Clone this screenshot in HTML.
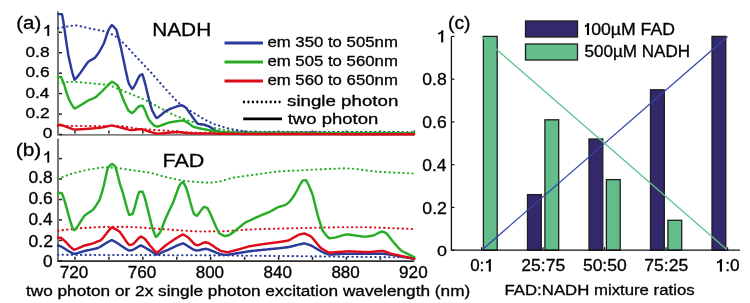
<!DOCTYPE html><html><head><meta charset="utf-8"><style>html,body{margin:0;padding:0;background:#fff;width:750px;height:303px;overflow:hidden}svg{display:block;filter:contrast(1)}text{font-family:"Liberation Sans",sans-serif;fill:#000;stroke:#000;stroke-width:0.3px}</style></head><body>
<svg width="750" height="303" viewBox="0 0 750 303">
<path d="M58,11.4 V134.5" fill="none" stroke="#777" stroke-width="2"/>
<path d="M57,134.9 H414.3" fill="none" stroke="#808080" stroke-width="1.8"/>
<path d="M59,134.5 h3" stroke="#222" stroke-width="1.5"/>
<path d="M59,114.1 h3" stroke="#222" stroke-width="1.5"/>
<path d="M59,93.6 h3" stroke="#222" stroke-width="1.5"/>
<path d="M59,73.2 h3" stroke="#222" stroke-width="1.5"/>
<path d="M59,52.7 h3" stroke="#222" stroke-width="1.5"/>
<path d="M59,32.3 h3" stroke="#222" stroke-width="1.5"/>
<text transform="translate(42.66,137.80) scale(1.147,1)" font-size="15.07">0</text>
<text transform="translate(25.45,118.20) scale(1.159,1)" font-size="15.07">0.2</text>
<text transform="translate(25.46,98.10) scale(1.141,1)" font-size="15.07">0.4</text>
<text transform="translate(25.46,76.70) scale(1.150,1)" font-size="15.07">0.6</text>
<text transform="translate(25.46,56.50) scale(1.150,1)" font-size="15.07">0.8</text>
<path d="M48.25,24.90 V36.10" stroke="#000" stroke-width="1.9"/><path d="M49.00,25.10 Q47.25,27.50 44.35,28.40" fill="none" stroke="#000" stroke-width="1.61"/>
<path d="M75.0,133.5 v-3" stroke="#222" stroke-width="1.5"/>
<path d="M108.9,133.5 v-3" stroke="#222" stroke-width="1.5"/>
<path d="M142.8,133.5 v-3" stroke="#222" stroke-width="1.5"/>
<path d="M176.8,133.5 v-3" stroke="#222" stroke-width="1.5"/>
<path d="M210.7,133.5 v-3" stroke="#222" stroke-width="1.5"/>
<path d="M244.6,133.5 v-3" stroke="#222" stroke-width="1.5"/>
<path d="M278.6,133.5 v-3" stroke="#222" stroke-width="1.5"/>
<path d="M312.5,133.5 v-3" stroke="#222" stroke-width="1.5"/>
<path d="M346.4,133.5 v-3" stroke="#222" stroke-width="1.5"/>
<path d="M380.4,133.5 v-3" stroke="#222" stroke-width="1.5"/>
<path d="M414.3,133.5 v-3" stroke="#222" stroke-width="1.5"/>
<path d="M58,138.6 V260.8" fill="none" stroke="#777" stroke-width="2"/>
<path d="M57,261.2 H414.3" fill="none" stroke="#2e2e2e" stroke-width="1.8"/>
<path d="M59,260.8 h3" stroke="#222" stroke-width="1.5"/>
<path d="M59,240.4 h3" stroke="#222" stroke-width="1.5"/>
<path d="M59,219.9 h3" stroke="#222" stroke-width="1.5"/>
<path d="M59,199.5 h3" stroke="#222" stroke-width="1.5"/>
<path d="M59,179.0 h3" stroke="#222" stroke-width="1.5"/>
<path d="M59,158.6 h3" stroke="#222" stroke-width="1.5"/>
<text transform="translate(43.06,267.09) scale(1.106,1)" font-size="15.63">0</text>
<text transform="translate(28.45,246.99) scale(1.127,1)" font-size="15.63">0.2</text>
<text transform="translate(28.46,225.39) scale(1.110,1)" font-size="15.63">0.4</text>
<text transform="translate(28.45,204.39) scale(1.118,1)" font-size="15.63">0.6</text>
<text transform="translate(28.45,183.49) scale(1.118,1)" font-size="15.63">0.8</text>
<path d="M48.25,151.40 V162.60" stroke="#000" stroke-width="1.9"/><path d="M49.00,151.60 Q47.25,154.00 44.35,154.90" fill="none" stroke="#000" stroke-width="1.61"/>
<path d="M75.0,259.8 v-3" stroke="#222" stroke-width="1.5"/>
<path d="M108.9,259.8 v-3" stroke="#222" stroke-width="1.5"/>
<path d="M142.8,259.8 v-3" stroke="#222" stroke-width="1.5"/>
<path d="M176.8,259.8 v-3" stroke="#222" stroke-width="1.5"/>
<path d="M210.7,259.8 v-3" stroke="#222" stroke-width="1.5"/>
<path d="M244.6,259.8 v-3" stroke="#222" stroke-width="1.5"/>
<path d="M278.6,259.8 v-3" stroke="#222" stroke-width="1.5"/>
<path d="M312.5,259.8 v-3" stroke="#222" stroke-width="1.5"/>
<path d="M346.4,259.8 v-3" stroke="#222" stroke-width="1.5"/>
<path d="M380.4,259.8 v-3" stroke="#222" stroke-width="1.5"/>
<path d="M414.3,259.8 v-3" stroke="#222" stroke-width="1.5"/>
<text transform="translate(16.22,28.66) scale(1.165,1)" font-size="17.55">(a)</text>
<text transform="translate(15.70,156.19) scale(1.136,1)" font-size="18.40">(b)</text>
<text transform="translate(152.18,35.65) scale(1.097,1)" font-size="18.99">NADH</text>
<text transform="translate(162.53,166.95) scale(1.167,1)" font-size="18.41">FAD</text>
<text transform="translate(59.76,278.29) scale(1.097,1)" font-size="15.63">720</text>
<text transform="translate(127.63,278.29) scale(1.097,1)" font-size="15.63">760</text>
<text transform="translate(195.67,278.29) scale(1.090,1)" font-size="15.63">800</text>
<text transform="translate(263.53,278.29) scale(1.090,1)" font-size="15.63">840</text>
<text transform="translate(331.40,278.29) scale(1.090,1)" font-size="15.63">880</text>
<text transform="translate(399.09,278.29) scale(1.097,1)" font-size="15.63">920</text>
<text transform="translate(25.91,295.64) scale(1.166,1)" font-size="14.79">two photon or 2x single photon excitation wavelength (nm)</text>
<path d="M58.0,126.00 L59.0,126.00 L60.0,126.00 L61.0,126.00 L62.0,126.00 L63.0,126.00 L64.0,126.00 L65.0,126.00 L66.0,126.00 L67.0,126.00 L68.0,126.00 L69.0,126.00 L70.0,126.00 L71.0,126.00 L72.0,126.00 L73.0,126.00 L74.0,126.00 L75.0,126.00 L76.0,126.00 L77.0,126.00 L78.0,126.00 L79.0,126.00 L80.0,126.00 L81.0,126.00 L82.0,126.00 L83.0,126.00 L84.0,126.00 L85.0,126.00 L86.0,126.00 L87.0,126.00 L88.0,126.00 L89.0,126.00 L90.0,126.00 L91.0,126.00 L92.0,126.00 L93.0,126.00 L94.0,126.00 L95.0,126.00 L96.0,126.00 L97.0,126.00 L98.0,126.00 L99.0,126.00 L100.0,126.00 L101.0,126.00 L102.0,126.00 L103.0,126.00 L104.0,126.00 L105.0,126.00 L106.0,126.00 L107.0,126.00 L108.0,126.00 L109.0,126.00 L110.0,126.00 L111.0,126.00 L112.0,126.00 L113.0,126.00 L114.0,126.00 L115.0,126.00 L116.0,126.00 L117.0,126.00 L118.0,126.00 L119.0,126.00 L120.0,126.00 L121.0,126.00 L122.0,126.12 L123.1,126.26 L124.1,126.42 L125.1,126.58 L126.2,126.76 L127.2,126.94 L128.2,127.13 L129.2,127.33 L130.3,127.53 L131.3,127.72 L132.3,127.92 L133.4,128.11 L134.4,128.30 L135.4,128.48 L136.5,128.64 L137.5,128.80 L138.5,128.88 L139.5,128.95 L140.5,129.02 L141.5,129.10 L142.5,129.17 L143.5,129.24 L144.5,129.30 L145.6,129.37 L146.6,129.44 L147.6,129.50 L148.6,129.57 L149.6,129.63 L150.6,129.69 L151.6,129.75 L152.6,129.82 L153.6,129.88 L154.6,129.94 L155.6,130.00 L156.6,130.06 L157.6,130.13 L158.6,130.19 L159.7,130.25 L160.7,130.31 L161.7,130.37 L162.7,130.44 L163.7,130.50 L164.7,130.57 L165.7,130.63 L166.7,130.70 L167.7,130.78 L168.7,130.85 L169.8,130.93 L170.8,131.01 L171.8,131.10 L172.8,131.18 L173.9,131.26 L174.9,131.35 L175.9,131.43 L176.9,131.51 L178.0,131.60 L179.0,131.68 L180.0,131.77 L181.0,131.85 L182.0,131.93 L183.1,132.01 L184.1,132.09 L185.1,132.17 L186.1,132.24 L187.2,132.32 L188.2,132.39 L189.2,132.46 L190.2,132.52 L191.3,132.58 L192.3,132.64 L193.3,132.70 L194.3,132.71 L195.3,132.72 L196.3,132.73 L197.4,132.73 L198.4,132.74 L199.4,132.75 L200.4,132.76 L201.4,132.77 L202.4,132.77 L203.5,132.78 L204.5,132.79 L205.5,132.79 L206.5,132.80 L207.5,132.81 L208.5,132.82 L209.5,132.82 L210.6,132.83 L211.6,132.84 L212.6,132.84 L213.6,132.85 L214.6,132.86 L215.6,132.86 L216.7,132.87 L217.7,132.87 L218.7,132.88 L219.7,132.89 L220.7,132.89 L221.7,132.90 L222.7,132.90 L223.8,132.91 L224.8,132.91 L225.8,132.92 L226.8,132.93 L227.8,132.93 L228.8,132.94 L229.8,132.94 L230.9,132.95 L231.9,132.95 L232.9,132.96 L233.9,132.97 L234.9,132.97 L235.9,132.98 L237.0,132.98 L238.0,132.99 L239.0,132.99 L240.0,133.00 L241.0,133.00 L242.0,133.01 L243.0,133.01 L244.0,133.01 L245.0,133.02 L246.0,133.02 L247.0,133.02 L248.0,133.03 L249.0,133.03 L250.0,133.03 L251.0,133.04 L252.0,133.04 L253.0,133.04 L254.0,133.05 L255.0,133.05 L256.0,133.05 L257.0,133.06 L258.0,133.06 L259.0,133.06 L260.0,133.07 L261.0,133.07 L262.0,133.07 L263.0,133.07 L264.0,133.08 L265.0,133.08 L266.0,133.08 L267.0,133.09 L268.0,133.09 L269.0,133.09 L270.0,133.10 L271.0,133.10 L272.0,133.10 L273.0,133.11 L274.0,133.11 L275.0,133.11 L276.0,133.11 L277.0,133.12 L278.0,133.12 L279.0,133.12 L280.0,133.13 L281.0,133.13 L282.0,133.13 L283.0,133.14 L284.0,133.14 L285.0,133.14 L286.0,133.14 L287.0,133.15 L288.0,133.15 L289.0,133.15 L290.0,133.16 L291.0,133.16 L292.0,133.16 L293.0,133.16 L294.0,133.17 L295.0,133.17 L296.0,133.17 L297.0,133.18 L298.0,133.18 L299.0,133.18 L300.0,133.19 L301.0,133.19 L302.0,133.19 L303.0,133.19 L304.0,133.20 L305.0,133.20 L306.0,133.20 L307.0,133.21 L308.0,133.21 L309.0,133.21 L310.0,133.21 L311.0,133.22 L312.0,133.22 L313.0,133.22 L314.0,133.22 L315.0,133.23 L316.0,133.23 L317.0,133.23 L318.0,133.24 L319.0,133.24 L320.0,133.24 L321.0,133.24 L322.0,133.25 L323.0,133.25 L324.0,133.25 L325.0,133.26 L326.0,133.26 L327.0,133.26 L328.0,133.26 L329.0,133.27 L330.0,133.27 L331.0,133.27 L332.0,133.27 L333.0,133.28 L334.0,133.28 L335.0,133.28 L336.0,133.29 L337.0,133.29 L338.0,133.29 L339.0,133.29 L340.0,133.30 L341.0,133.30 L342.0,133.30 L343.0,133.30 L344.0,133.31 L345.0,133.31 L346.0,133.31 L347.0,133.32 L348.0,133.32 L349.0,133.32 L350.0,133.32 L351.0,133.33 L352.0,133.33 L353.0,133.33 L354.0,133.33 L355.0,133.34 L356.0,133.34 L357.0,133.34 L358.0,133.35 L359.0,133.35 L360.0,133.35 L361.0,133.35 L362.0,133.36 L363.0,133.36 L364.0,133.36 L365.0,133.36 L366.0,133.37 L367.0,133.37 L368.0,133.37 L369.0,133.37 L370.0,133.38 L371.0,133.38 L372.0,133.38 L373.0,133.39 L374.0,133.39 L375.0,133.39 L376.0,133.39 L377.0,133.40 L378.0,133.40 L379.0,133.40 L380.0,133.40 L381.0,133.41 L382.0,133.41 L383.0,133.41 L384.0,133.42 L385.0,133.42 L386.0,133.42 L387.0,133.42 L388.0,133.43 L389.0,133.43 L390.0,133.43 L391.0,133.44 L392.0,133.44 L393.0,133.44 L394.0,133.44 L395.0,133.45 L396.0,133.45 L397.0,133.45 L398.0,133.45 L399.0,133.46 L400.0,133.46 L401.0,133.46 L402.0,133.47 L403.0,133.47 L404.0,133.47 L405.0,133.47 L406.0,133.48 L407.0,133.48 L408.0,133.48 L409.0,133.49 L410.0,133.49 L411.0,133.49 L412.0,133.49 L413.0,133.50 L414.0,133.50" fill="none" stroke="#dd0a18" stroke-width="2.1" stroke-dasharray="0.3 4.3" stroke-linecap="round"/>
<path d="M58.0,83.00 L59.0,82.90 L60.1,82.79 L61.1,82.68 L62.2,82.57 L63.2,82.46 L64.2,82.35 L65.3,82.24 L66.3,82.13 L67.3,82.03 L68.4,81.94 L69.4,81.85 L70.5,81.77 L71.5,81.70 L72.5,81.76 L73.6,81.82 L74.6,81.89 L75.6,81.96 L76.7,82.04 L77.7,82.12 L78.7,82.20 L79.8,82.28 L80.8,82.37 L81.8,82.46 L82.9,82.55 L83.9,82.65 L84.9,82.74 L86.0,82.84 L87.0,82.94 L88.0,83.03 L89.1,83.13 L90.1,83.23 L91.1,83.33 L92.2,83.42 L93.2,83.52 L94.2,83.61 L95.3,83.71 L96.3,83.80 L97.3,83.90 L98.4,84.01 L99.4,84.11 L100.5,84.21 L101.5,84.32 L102.6,84.42 L103.6,84.53 L104.7,84.64 L105.7,84.75 L106.8,84.87 L107.8,85.00 L108.8,85.32 L109.9,85.66 L110.9,86.02 L111.9,86.39 L113.0,86.77 L114.0,87.17 L115.0,87.57 L116.0,87.98 L117.1,88.39 L118.1,88.81 L119.1,89.23 L120.2,89.65 L121.2,90.07 L122.2,90.49 L123.3,90.90 L124.3,91.30 L125.3,91.73 L126.4,92.15 L127.4,92.58 L128.5,93.00 L129.5,93.43 L130.6,93.85 L131.6,94.28 L132.6,94.71 L133.7,95.13 L134.7,95.56 L135.8,95.99 L136.8,96.43 L137.8,96.86 L138.9,97.29 L139.9,97.73 L141.0,98.17 L142.0,98.61 L143.1,99.05 L144.1,99.50 L145.3,100.07 L146.5,100.65 L147.6,101.23 L148.8,101.81 L150.0,102.40 L151.0,102.94 L152.0,103.48 L153.1,104.03 L154.1,104.58 L155.1,105.14 L156.1,105.69 L157.2,106.25 L158.2,106.81 L159.2,107.36 L160.2,107.92 L161.3,108.48 L162.3,109.03 L163.3,109.59 L164.3,110.14 L165.4,110.69 L166.4,111.24 L167.4,111.78 L168.4,112.32 L169.5,112.85 L170.5,113.38 L171.5,113.90 L172.5,114.33 L173.6,114.76 L174.6,115.19 L175.6,115.61 L176.7,116.03 L177.7,116.45 L178.7,116.87 L179.8,117.28 L180.8,117.69 L181.8,118.10 L182.8,118.51 L183.9,118.91 L184.9,119.31 L185.9,119.71 L187.0,120.11 L188.0,120.50 L189.0,120.83 L190.1,121.15 L191.1,121.47 L192.1,121.79 L193.2,122.11 L194.2,122.43 L195.2,122.75 L196.2,123.06 L197.3,123.37 L198.3,123.68 L199.3,123.99 L200.4,124.29 L201.4,124.60 L202.4,124.90 L203.5,125.20 L204.5,125.50 L205.5,125.75 L206.6,126.01 L207.6,126.27 L208.7,126.53 L209.7,126.79 L210.8,127.05 L211.8,127.31 L212.8,127.57 L213.9,127.82 L214.9,128.07 L216.0,128.32 L217.0,128.56 L218.0,128.80 L219.1,129.04 L220.1,129.26 L221.2,129.48 L222.2,129.70 L223.3,129.90 L224.3,130.10 L225.3,130.17 L226.4,130.25 L227.4,130.32 L228.4,130.39 L229.4,130.46 L230.5,130.52 L231.5,130.59 L232.5,130.66 L233.6,130.72 L234.6,130.79 L235.6,130.85 L236.6,130.91 L237.7,130.97 L238.7,131.03 L239.7,131.09 L240.7,131.15 L241.8,131.20 L242.8,131.26 L243.8,131.31 L244.9,131.36 L245.9,131.41 L246.9,131.46 L247.9,131.51 L249.0,131.55 L250.0,131.60 L251.0,131.61 L252.0,131.62 L253.0,131.63 L254.0,131.64 L255.0,131.65 L256.0,131.66 L257.0,131.67 L258.0,131.68 L259.0,131.69 L260.0,131.70 L261.0,131.71 L262.0,131.72 L263.0,131.73 L264.0,131.74 L265.0,131.74 L266.0,131.75 L267.0,131.76 L268.0,131.77 L269.0,131.78 L270.0,131.79 L271.0,131.79 L272.0,131.80 L273.0,131.81 L274.0,131.82 L275.0,131.83 L276.0,131.83 L277.0,131.84 L278.0,131.85 L279.0,131.86 L280.0,131.86 L281.0,131.87 L282.0,131.88 L283.0,131.89 L284.0,131.89 L285.0,131.90 L286.0,131.91 L287.0,131.91 L288.0,131.92 L289.0,131.93 L290.0,131.93 L291.0,131.94 L292.0,131.95 L293.0,131.95 L294.0,131.96 L295.0,131.97 L296.0,131.97 L297.0,131.98 L298.0,131.99 L299.0,131.99 L300.0,132.00 L301.0,132.00 L302.0,132.00 L303.0,132.01 L304.0,132.01 L305.0,132.01 L306.0,132.01 L307.0,132.02 L308.0,132.02 L309.0,132.02 L310.0,132.02 L311.0,132.02 L312.0,132.03 L313.0,132.03 L314.0,132.03 L315.0,132.03 L316.0,132.03 L317.0,132.04 L318.0,132.04 L319.0,132.04 L320.0,132.04 L321.0,132.04 L322.0,132.05 L323.0,132.05 L324.0,132.05 L325.0,132.05 L326.0,132.05 L327.0,132.05 L328.0,132.06 L329.0,132.06 L330.0,132.06 L331.0,132.06 L332.0,132.06 L333.0,132.07 L334.0,132.07 L335.0,132.07 L336.0,132.07 L337.0,132.07 L338.0,132.07 L339.0,132.08 L340.0,132.08 L341.0,132.08 L342.0,132.08 L343.0,132.08 L344.0,132.09 L345.0,132.09 L346.0,132.09 L347.0,132.09 L348.0,132.09 L349.0,132.09 L350.0,132.10 L351.0,132.10 L352.0,132.10 L353.0,132.10 L354.0,132.10 L355.0,132.10 L356.0,132.11 L357.0,132.11 L358.0,132.11 L359.0,132.11 L360.0,132.11 L361.0,132.11 L362.0,132.12 L363.0,132.12 L364.0,132.12 L365.0,132.12 L366.0,132.12 L367.0,132.12 L368.0,132.12 L369.0,132.13 L370.0,132.13 L371.0,132.13 L372.0,132.13 L373.0,132.13 L374.0,132.13 L375.0,132.14 L376.0,132.14 L377.0,132.14 L378.0,132.14 L379.0,132.14 L380.0,132.14 L381.0,132.15 L382.0,132.15 L383.0,132.15 L384.0,132.15 L385.0,132.15 L386.0,132.15 L387.0,132.15 L388.0,132.16 L389.0,132.16 L390.0,132.16 L391.0,132.16 L392.0,132.16 L393.0,132.16 L394.0,132.17 L395.0,132.17 L396.0,132.17 L397.0,132.17 L398.0,132.17 L399.0,132.17 L400.0,132.18 L401.0,132.18 L402.0,132.18 L403.0,132.18 L404.0,132.18 L405.0,132.18 L406.0,132.19 L407.0,132.19 L408.0,132.19 L409.0,132.19 L410.0,132.19 L411.0,132.19 L412.0,132.20 L413.0,132.20 L414.0,132.20" fill="none" stroke="#27ad25" stroke-width="2.1" stroke-dasharray="0.3 4.3" stroke-linecap="round"/>
<path d="M58.0,28.10 L59.0,27.93 L60.1,27.76 L61.1,27.58 L62.1,27.40 L63.2,27.22 L64.2,27.03 L65.2,26.85 L66.3,26.67 L67.3,26.49 L68.4,26.31 L69.4,26.14 L70.4,25.98 L71.5,25.82 L72.5,25.68 L73.5,25.54 L74.6,25.41 L75.6,25.30 L76.6,25.47 L77.7,25.65 L78.7,25.86 L79.7,26.09 L80.8,26.33 L81.8,26.58 L82.8,26.84 L83.9,27.10 L84.9,27.36 L85.9,27.62 L87.0,27.86 L88.0,28.10 L89.0,28.31 L90.1,28.51 L91.1,28.72 L92.1,28.91 L93.2,29.11 L94.2,29.31 L95.2,29.51 L96.2,29.70 L97.3,29.90 L98.3,30.10 L99.3,30.31 L100.4,30.52 L101.4,30.73 L102.4,30.95 L103.5,31.17 L104.5,31.40 L105.6,31.81 L106.7,32.23 L107.8,32.66 L108.9,33.10 L110.0,33.56 L111.1,34.03 L112.2,34.51 L113.3,35.00 L114.4,35.50 L115.5,36.33 L116.6,37.20 L117.7,38.09 L118.8,39.01 L119.9,39.95 L121.0,40.90 L122.1,41.86 L123.2,42.83 L124.3,43.80 L125.3,44.90 L126.4,46.02 L127.4,47.16 L128.4,48.30 L129.5,49.46 L130.5,50.61 L131.6,51.76 L132.6,52.90 L133.6,53.98 L134.6,55.06 L135.6,56.14 L136.6,57.22 L137.7,58.29 L138.7,59.37 L139.7,60.44 L140.7,61.52 L141.7,62.59 L142.7,63.66 L143.7,64.74 L144.7,65.81 L145.7,66.89 L146.8,67.97 L147.8,69.05 L148.8,70.13 L149.8,71.21 L150.8,72.30 L151.8,73.47 L152.9,74.65 L153.9,75.82 L155.0,77.00 L156.0,78.19 L157.1,79.37 L158.1,80.56 L159.2,81.74 L160.2,82.93 L161.3,84.11 L162.3,85.30 L163.4,86.48 L164.4,87.65 L165.5,88.83 L166.5,90.00 L167.5,91.13 L168.6,92.27 L169.6,93.42 L170.7,94.57 L171.7,95.71 L172.8,96.85 L173.8,97.97 L174.9,99.09 L175.9,100.18 L177.0,101.25 L178.0,102.30 L179.1,103.07 L180.1,103.82 L181.2,104.56 L182.2,105.29 L183.2,106.01 L184.3,106.72 L185.3,107.43 L186.4,108.13 L187.4,108.83 L188.5,109.52 L189.5,110.22 L190.6,110.91 L191.6,111.60 L192.7,112.30 L193.7,112.94 L194.8,113.57 L195.8,114.21 L196.9,114.84 L197.9,115.47 L199.0,116.10 L200.0,116.73 L201.0,117.36 L202.1,117.98 L203.1,118.59 L204.2,119.20 L205.2,119.81 L206.3,120.41 L207.3,121.00 L208.3,121.47 L209.3,121.93 L210.3,122.40 L211.3,122.85 L212.3,123.30 L213.3,123.74 L214.3,124.18 L215.3,124.60 L216.4,124.92 L217.4,125.25 L218.5,125.56 L219.5,125.88 L220.6,126.19 L221.6,126.49 L222.7,126.79 L223.7,127.09 L224.8,127.39 L225.8,127.68 L226.8,127.96 L227.9,128.25 L228.9,128.53 L230.0,128.80 L231.0,128.98 L232.0,129.16 L233.0,129.35 L234.0,129.53 L235.0,129.71 L236.0,129.90 L237.0,130.08 L238.0,130.26 L239.0,130.43 L240.0,130.61 L241.0,130.78 L242.0,130.94 L243.0,131.10 L244.0,131.25 L245.0,131.40 L246.0,131.54 L247.0,131.67 L248.0,131.79 L249.0,131.90 L250.0,131.90 L251.0,131.91 L252.0,131.91 L253.0,131.91 L254.0,131.91 L255.0,131.92 L256.0,131.92 L257.0,131.92 L258.0,131.92 L259.0,131.93 L260.0,131.93 L261.0,131.93 L262.0,131.93 L263.0,131.93 L264.0,131.94 L265.0,131.94 L266.0,131.94 L267.0,131.94 L268.0,131.94 L269.0,131.95 L270.0,131.95 L271.0,131.95 L272.0,131.95 L273.0,131.95 L274.0,131.96 L275.0,131.96 L276.0,131.96 L277.0,131.96 L278.0,131.96 L279.0,131.96 L280.0,131.97 L281.0,131.97 L282.0,131.97 L283.0,131.97 L284.0,131.97 L285.0,131.97 L286.0,131.98 L287.0,131.98 L288.0,131.98 L289.0,131.98 L290.0,131.98 L291.0,131.98 L292.0,131.99 L293.0,131.99 L294.0,131.99 L295.0,131.99 L296.0,131.99 L297.0,131.99 L298.0,132.00 L299.0,132.00 L300.0,132.00 L301.0,132.00 L302.0,132.00 L303.0,132.01 L304.0,132.01 L305.0,132.01 L306.0,132.01 L307.0,132.01 L308.0,132.01 L309.0,132.02 L310.0,132.02 L311.0,132.02 L312.0,132.02 L313.0,132.02 L314.0,132.02 L315.0,132.03 L316.0,132.03 L317.0,132.03 L318.0,132.03 L319.0,132.03 L320.0,132.04 L321.0,132.04 L322.0,132.04 L323.0,132.04 L324.0,132.04 L325.0,132.04 L326.0,132.05 L327.0,132.05 L328.0,132.05 L329.0,132.05 L330.0,132.05 L331.0,132.06 L332.0,132.06 L333.0,132.06 L334.0,132.06 L335.0,132.06 L336.0,132.06 L337.0,132.07 L338.0,132.07 L339.0,132.07 L340.0,132.07 L341.0,132.07 L342.0,132.07 L343.0,132.08 L344.0,132.08 L345.0,132.08 L346.0,132.08 L347.0,132.08 L348.0,132.08 L349.0,132.09 L350.0,132.09 L351.0,132.09 L352.0,132.09 L353.0,132.09 L354.0,132.10 L355.0,132.10 L356.0,132.10 L357.0,132.10 L358.0,132.10 L359.0,132.10 L360.0,132.11 L361.0,132.11 L362.0,132.11 L363.0,132.11 L364.0,132.11 L365.0,132.11 L366.0,132.12 L367.0,132.12 L368.0,132.12 L369.0,132.12 L370.0,132.12 L371.0,132.12 L372.0,132.13 L373.0,132.13 L374.0,132.13 L375.0,132.13 L376.0,132.13 L377.0,132.14 L378.0,132.14 L379.0,132.14 L380.0,132.14 L381.0,132.14 L382.0,132.14 L383.0,132.15 L384.0,132.15 L385.0,132.15 L386.0,132.15 L387.0,132.15 L388.0,132.15 L389.0,132.16 L390.0,132.16 L391.0,132.16 L392.0,132.16 L393.0,132.16 L394.0,132.17 L395.0,132.17 L396.0,132.17 L397.0,132.17 L398.0,132.17 L399.0,132.17 L400.0,132.18 L401.0,132.18 L402.0,132.18 L403.0,132.18 L404.0,132.18 L405.0,132.18 L406.0,132.19 L407.0,132.19 L408.0,132.19 L409.0,132.19 L410.0,132.19 L411.0,132.19 L412.0,132.20 L413.0,132.20 L414.0,132.20" fill="none" stroke="#2a3b9c" stroke-width="2.1" stroke-dasharray="0.3 4.3" stroke-linecap="round"/>
<path d="M58.3,14.10 L59.5,14.10 L60.7,14.10 L61.9,14.10 L63.0,19.27 L64.0,25.71 L65.0,32.94 L66.1,40.47 L67.2,47.82 L68.2,54.50 L69.2,59.14 L70.3,63.86 L71.3,68.46 L72.4,72.76 L73.5,76.57 L74.5,79.70 L75.7,78.67 L76.8,77.38 L78.0,75.94 L79.1,74.44 L80.3,73.00 L81.3,71.60 L82.3,70.16 L83.3,68.68 L84.3,67.20 L85.3,65.73 L86.3,64.31 L87.3,62.96 L88.3,61.70 L89.4,60.98 L90.5,60.33 L91.7,59.71 L92.8,59.08 L93.9,58.42 L95.0,57.70 L96.1,56.28 L97.2,54.75 L98.4,53.14 L99.5,51.50 L100.6,49.47 L101.8,47.38 L102.9,45.23 L104.0,43.00 L105.2,39.76 L106.3,36.32 L107.4,32.92 L108.6,29.80 L109.7,28.04 L110.8,26.38 L111.9,25.10 L113.0,25.98 L114.1,27.08 L115.2,28.34 L116.3,29.70 L117.3,33.08 L118.3,36.92 L119.3,40.98 L120.3,45.00 L121.4,49.79 L122.4,54.77 L123.5,59.87 L124.6,64.96 L125.6,69.97 L126.7,74.80 L127.7,79.34 L128.8,83.50 L130.0,85.59 L131.1,87.51 L132.3,89.00 L133.7,87.20 L135.0,85.00 L136.1,82.69 L137.2,80.23 L138.4,77.86 L139.5,75.80 L140.9,74.90 L142.3,74.20 L143.4,77.40 L144.5,81.35 L145.7,85.79 L146.8,90.47 L147.9,95.12 L149.0,99.50 L150.0,103.11 L151.0,106.68 L152.0,110.00 L153.2,112.28 L154.3,114.48 L155.4,116.44 L156.6,118.00 L157.7,117.40 L158.8,116.67 L159.9,115.86 L161.0,114.98 L162.1,114.07 L163.2,113.15 L164.3,112.24 L165.4,111.38 L166.5,110.60 L167.6,110.10 L168.7,109.62 L169.8,109.15 L170.9,108.69 L172.0,108.24 L173.1,107.80 L174.1,107.45 L175.2,107.09 L176.2,106.72 L177.2,106.37 L178.3,106.03 L179.3,105.72 L180.4,105.44 L181.4,105.20 L182.4,105.61 L183.4,106.12 L184.5,106.70 L185.5,107.30 L186.6,108.64 L187.7,110.12 L188.8,111.68 L189.9,113.27 L191.0,114.86 L192.1,116.40 L193.3,117.96 L194.4,119.57 L195.6,121.15 L196.7,122.59 L197.9,123.80 L199.0,123.98 L200.1,124.13 L201.2,124.26 L202.3,124.40 L203.4,124.54 L204.5,124.70 L205.7,125.12 L206.9,125.59 L208.2,126.09 L209.4,126.60 L210.5,127.29 L211.6,128.03 L212.7,128.80 L213.8,129.55 L214.9,130.26 L216.0,130.90 L217.0,131.15 L218.1,131.40 L219.1,131.63 L220.2,131.86 L221.2,132.07 L222.2,132.26 L223.3,132.44 L224.3,132.60 L225.3,132.62 L226.3,132.63 L227.4,132.65 L228.4,132.66 L229.4,132.68 L230.4,132.69 L231.4,132.71 L232.5,132.72 L233.5,132.73 L234.5,132.75 L235.5,132.76 L236.5,132.77 L237.6,132.79 L238.6,132.80 L239.6,132.81 L240.6,132.82 L241.6,132.83 L242.7,132.84 L243.7,132.85 L244.7,132.86 L245.7,132.87 L246.7,132.88 L247.8,132.89 L248.8,132.90 L249.8,132.91 L250.8,132.92 L251.8,132.93 L252.9,132.94 L253.9,132.95 L254.9,132.96 L255.9,132.97 L256.9,132.97 L258.0,132.98 L259.0,132.99 L260.0,133.00 L261.0,133.00 L262.0,133.00 L263.0,133.01 L264.0,133.01 L265.0,133.01 L266.0,133.01 L267.0,133.01 L268.0,133.01 L269.0,133.02 L270.0,133.02 L271.0,133.02 L272.0,133.02 L273.0,133.02 L274.0,133.02 L275.0,133.03 L276.0,133.03 L277.0,133.03 L278.0,133.03 L279.0,133.03 L280.0,133.03 L281.0,133.04 L282.0,133.04 L283.0,133.04 L284.0,133.04 L285.0,133.04 L286.0,133.04 L287.0,133.04 L288.0,133.05 L289.0,133.05 L290.0,133.05 L291.0,133.05 L292.0,133.05 L293.0,133.05 L294.0,133.05 L295.0,133.06 L296.0,133.06 L297.0,133.06 L298.0,133.06 L299.0,133.06 L300.0,133.06 L301.0,133.06 L302.0,133.07 L303.0,133.07 L304.0,133.07 L305.0,133.07 L306.0,133.07 L307.0,133.07 L308.0,133.07 L309.0,133.08 L310.0,133.08 L311.0,133.08 L312.0,133.08 L313.0,133.08 L314.0,133.08 L315.0,133.08 L316.0,133.08 L317.0,133.09 L318.0,133.09 L319.0,133.09 L320.0,133.09 L321.0,133.09 L322.0,133.09 L323.0,133.09 L324.0,133.09 L325.0,133.10 L326.0,133.10 L327.0,133.10 L328.0,133.10 L329.0,133.10 L330.0,133.10 L331.0,133.10 L332.0,133.10 L333.0,133.11 L334.0,133.11 L335.0,133.11 L336.0,133.11 L337.0,133.11 L338.0,133.11 L339.0,133.11 L340.0,133.11 L341.0,133.11 L342.0,133.12 L343.0,133.12 L344.0,133.12 L345.0,133.12 L346.0,133.12 L347.0,133.12 L348.0,133.12 L349.0,133.12 L350.0,133.12 L351.0,133.13 L352.0,133.13 L353.0,133.13 L354.0,133.13 L355.0,133.13 L356.0,133.13 L357.0,133.13 L358.0,133.13 L359.0,133.14 L360.0,133.14 L361.0,133.14 L362.0,133.14 L363.0,133.14 L364.0,133.14 L365.0,133.14 L366.0,133.14 L367.0,133.14 L368.0,133.15 L369.0,133.15 L370.0,133.15 L371.0,133.15 L372.0,133.15 L373.0,133.15 L374.0,133.15 L375.0,133.15 L376.0,133.15 L377.0,133.16 L378.0,133.16 L379.0,133.16 L380.0,133.16 L381.0,133.16 L382.0,133.16 L383.0,133.16 L384.0,133.16 L385.0,133.16 L386.0,133.17 L387.0,133.17 L388.0,133.17 L389.0,133.17 L390.0,133.17 L391.0,133.17 L392.0,133.17 L393.0,133.17 L394.0,133.18 L395.0,133.18 L396.0,133.18 L397.0,133.18 L398.0,133.18 L399.0,133.18 L400.0,133.18 L401.0,133.18 L402.0,133.18 L403.0,133.19 L404.0,133.19 L405.0,133.19 L406.0,133.19 L407.0,133.19 L408.0,133.19 L409.0,133.19 L410.0,133.19 L411.0,133.20 L412.0,133.20 L413.0,133.20 L414.0,133.20" fill="none" stroke="#2a3b9c" stroke-width="2.45" stroke-linejoin="round" stroke-linecap="round"/>
<path d="M58.0,77.00 L59.0,77.00 L60.0,77.00 L61.0,77.00 L62.1,79.21 L63.2,82.03 L64.3,85.00 L65.7,90.00 L66.8,93.29 L67.9,96.49 L69.0,99.50 L70.1,101.52 L71.2,103.54 L72.3,105.45 L73.4,107.13 L74.5,108.50 L75.6,108.07 L76.6,107.53 L77.7,106.92 L78.7,106.30 L79.8,105.70 L80.8,105.10 L81.8,104.48 L82.8,103.86 L83.8,103.24 L84.8,102.61 L85.8,101.99 L86.8,101.38 L87.8,100.78 L88.8,100.20 L89.9,99.72 L91.0,99.27 L92.1,98.82 L93.2,98.37 L94.3,97.90 L95.4,97.40 L96.4,96.55 L97.4,95.65 L98.4,94.70 L99.5,93.73 L100.5,92.75 L101.5,91.75 L102.5,90.77 L103.5,89.80 L104.5,88.75 L105.6,87.65 L106.7,86.52 L107.7,85.40 L108.8,84.33 L109.8,83.33 L110.9,82.44 L111.9,81.70 L113.1,82.26 L114.2,82.95 L115.4,83.74 L116.5,84.60 L117.7,85.50 L118.9,88.03 L120.0,90.91 L121.2,93.97 L122.3,97.05 L123.5,100.00 L124.7,102.78 L126.0,105.58 L127.2,108.25 L128.4,110.60 L129.7,111.56 L130.9,112.43 L132.2,113.10 L133.2,112.34 L134.2,111.37 L135.2,110.29 L136.2,109.16 L137.2,108.05 L138.2,107.04 L139.2,106.20 L140.3,106.00 L141.4,105.83 L142.5,105.70 L143.6,107.50 L144.7,109.75 L145.8,112.28 L146.8,114.89 L147.9,117.43 L149.0,119.70 L150.0,120.97 L151.0,122.22 L152.0,123.41 L153.0,124.51 L154.0,125.50 L155.1,125.89 L156.2,126.23 L157.3,126.50 L158.3,126.26 L159.3,125.98 L160.3,125.67 L161.3,125.33 L162.3,124.98 L163.3,124.61 L164.3,124.23 L165.3,123.86 L166.3,123.49 L167.3,123.14 L168.3,122.81 L169.3,122.50 L170.3,122.32 L171.4,122.15 L172.4,121.97 L173.4,121.80 L174.5,121.63 L175.5,121.46 L176.5,121.30 L177.5,121.14 L178.6,120.99 L179.6,120.85 L180.6,120.73 L181.7,120.61 L182.7,120.50 L183.7,120.79 L184.7,121.17 L185.7,121.58 L186.7,122.00 L187.8,122.74 L188.9,123.54 L190.0,124.38 L191.1,125.21 L192.2,125.99 L193.3,126.70 L194.3,126.99 L195.3,127.25 L196.3,127.51 L197.3,127.76 L198.3,128.00 L199.3,128.23 L200.3,128.46 L201.3,128.70 L202.4,128.91 L203.4,129.12 L204.5,129.32 L205.6,129.52 L206.7,129.72 L207.7,129.92 L208.8,130.11 L209.9,130.31 L210.9,130.51 L212.0,130.70 L213.0,130.87 L214.0,131.04 L215.0,131.21 L216.0,131.38 L217.0,131.55 L218.0,131.71 L219.0,131.86 L220.0,132.00 L221.0,132.06 L222.0,132.12 L223.0,132.18 L224.0,132.24 L225.0,132.30 L226.0,132.35 L227.0,132.41 L228.0,132.46 L229.0,132.52 L230.0,132.57 L231.0,132.62 L232.0,132.67 L233.0,132.72 L234.0,132.76 L235.0,132.81 L236.0,132.85 L237.0,132.89 L238.0,132.93 L239.0,132.97 L240.0,133.00 L241.0,133.00 L242.0,133.00 L243.0,133.01 L244.0,133.01 L245.0,133.01 L246.0,133.01 L247.0,133.01 L248.0,133.01 L249.0,133.02 L250.0,133.02 L251.0,133.02 L252.0,133.02 L253.0,133.02 L254.0,133.02 L255.0,133.03 L256.0,133.03 L257.0,133.03 L258.0,133.03 L259.0,133.03 L260.0,133.03 L261.0,133.03 L262.0,133.04 L263.0,133.04 L264.0,133.04 L265.0,133.04 L266.0,133.04 L267.0,133.04 L268.0,133.05 L269.0,133.05 L270.0,133.05 L271.0,133.05 L272.0,133.05 L273.0,133.05 L274.0,133.05 L275.0,133.05 L276.0,133.06 L277.0,133.06 L278.0,133.06 L279.0,133.06 L280.0,133.06 L281.0,133.06 L282.0,133.06 L283.0,133.07 L284.0,133.07 L285.0,133.07 L286.0,133.07 L287.0,133.07 L288.0,133.07 L289.0,133.07 L290.0,133.07 L291.0,133.08 L292.0,133.08 L293.0,133.08 L294.0,133.08 L295.0,133.08 L296.0,133.08 L297.0,133.08 L298.0,133.08 L299.0,133.08 L300.0,133.09 L301.0,133.09 L302.0,133.09 L303.0,133.09 L304.0,133.09 L305.0,133.09 L306.0,133.09 L307.0,133.09 L308.0,133.09 L309.0,133.10 L310.0,133.10 L311.0,133.10 L312.0,133.10 L313.0,133.10 L314.0,133.10 L315.0,133.10 L316.0,133.10 L317.0,133.10 L318.0,133.11 L319.0,133.11 L320.0,133.11 L321.0,133.11 L322.0,133.11 L323.0,133.11 L324.0,133.11 L325.0,133.11 L326.0,133.11 L327.0,133.11 L328.0,133.12 L329.0,133.12 L330.0,133.12 L331.0,133.12 L332.0,133.12 L333.0,133.12 L334.0,133.12 L335.0,133.12 L336.0,133.12 L337.0,133.12 L338.0,133.12 L339.0,133.13 L340.0,133.13 L341.0,133.13 L342.0,133.13 L343.0,133.13 L344.0,133.13 L345.0,133.13 L346.0,133.13 L347.0,133.13 L348.0,133.13 L349.0,133.14 L350.0,133.14 L351.0,133.14 L352.0,133.14 L353.0,133.14 L354.0,133.14 L355.0,133.14 L356.0,133.14 L357.0,133.14 L358.0,133.14 L359.0,133.14 L360.0,133.15 L361.0,133.15 L362.0,133.15 L363.0,133.15 L364.0,133.15 L365.0,133.15 L366.0,133.15 L367.0,133.15 L368.0,133.15 L369.0,133.15 L370.0,133.15 L371.0,133.16 L372.0,133.16 L373.0,133.16 L374.0,133.16 L375.0,133.16 L376.0,133.16 L377.0,133.16 L378.0,133.16 L379.0,133.16 L380.0,133.16 L381.0,133.17 L382.0,133.17 L383.0,133.17 L384.0,133.17 L385.0,133.17 L386.0,133.17 L387.0,133.17 L388.0,133.17 L389.0,133.17 L390.0,133.17 L391.0,133.18 L392.0,133.18 L393.0,133.18 L394.0,133.18 L395.0,133.18 L396.0,133.18 L397.0,133.18 L398.0,133.18 L399.0,133.18 L400.0,133.18 L401.0,133.19 L402.0,133.19 L403.0,133.19 L404.0,133.19 L405.0,133.19 L406.0,133.19 L407.0,133.19 L408.0,133.19 L409.0,133.19 L410.0,133.20 L411.0,133.20 L412.0,133.20 L413.0,133.20 L414.0,133.20" fill="none" stroke="#27ad25" stroke-width="2.45" stroke-linejoin="round" stroke-linecap="round"/>
<path d="M58.0,125.50 L59.0,125.06 L60.0,124.70 L61.1,124.95 L62.1,125.25 L63.2,125.58 L64.2,125.95 L65.3,126.34 L66.3,126.74 L67.4,127.15 L68.5,127.56 L69.5,127.96 L70.6,128.35 L71.6,128.71 L72.7,129.05 L73.7,129.35 L74.8,129.60 L75.8,129.56 L76.8,129.51 L77.8,129.46 L78.9,129.40 L79.9,129.34 L80.9,129.27 L81.9,129.21 L82.9,129.14 L83.9,129.07 L85.0,129.00 L86.0,128.93 L87.0,128.87 L88.0,128.80 L89.0,128.71 L90.0,128.63 L91.0,128.54 L92.1,128.45 L93.1,128.37 L94.1,128.28 L95.1,128.19 L96.1,128.09 L97.1,128.00 L98.2,127.90 L99.2,127.80 L100.2,127.70 L101.2,127.60 L102.3,127.40 L103.3,127.19 L104.4,126.96 L105.5,126.73 L106.6,126.49 L107.6,126.26 L108.7,126.04 L109.8,125.83 L110.8,125.65 L111.9,125.50 L112.9,125.67 L113.9,125.87 L114.9,126.09 L115.9,126.33 L117.0,126.58 L118.0,126.84 L119.0,127.10 L120.0,127.36 L121.0,127.60 L122.1,127.88 L123.2,128.18 L124.3,128.49 L125.4,128.80 L126.5,129.10 L127.6,129.39 L128.7,129.66 L129.8,129.90 L130.9,130.10 L132.0,130.02 L133.1,129.91 L134.2,129.79 L135.3,129.67 L136.4,129.53 L137.5,129.41 L138.6,129.29 L139.7,129.18 L140.8,129.10 L142.0,129.30 L143.0,129.57 L144.0,129.86 L145.1,130.17 L146.1,130.48 L147.1,130.81 L148.1,131.14 L149.1,131.47 L150.2,131.79 L151.2,132.11 L152.2,132.43 L153.2,132.72 L154.2,133.00 L155.3,133.26 L156.3,133.49 L157.3,133.70 L158.3,133.64 L159.3,133.57 L160.3,133.50 L161.3,133.42 L162.3,133.33 L163.3,133.24 L164.3,133.15 L165.3,133.05 L166.3,132.95 L167.3,132.85 L168.3,132.75 L169.3,132.65 L170.3,132.55 L171.3,132.46 L172.3,132.37 L173.3,132.28 L174.3,132.20 L175.3,132.13 L176.3,132.06 L177.3,132.00 L178.3,132.07 L179.4,132.16 L180.4,132.25 L181.4,132.35 L182.5,132.46 L183.5,132.58 L184.5,132.69 L185.5,132.81 L186.6,132.92 L187.6,133.03 L188.6,133.13 L189.7,133.22 L190.7,133.30 L191.7,133.32 L192.7,133.33 L193.7,133.35 L194.7,133.37 L195.7,133.38 L196.7,133.40 L197.7,133.41 L198.7,133.43 L199.8,133.44 L200.8,133.46 L201.8,133.47 L202.8,133.48 L203.8,133.50 L204.8,133.51 L205.8,133.53 L206.8,133.54 L207.8,133.55 L208.8,133.57 L209.8,133.58 L210.8,133.59 L211.8,133.60 L212.8,133.62 L213.8,133.63 L214.8,133.64 L215.9,133.65 L216.9,133.66 L217.9,133.67 L218.9,133.69 L219.9,133.70 L220.9,133.71 L221.9,133.72 L222.9,133.73 L223.9,133.74 L224.9,133.75 L225.9,133.76 L226.9,133.77 L227.9,133.78 L228.9,133.79 L229.9,133.80 L230.9,133.81 L232.0,133.82 L233.0,133.83 L234.0,133.84 L235.0,133.85 L236.0,133.86 L237.0,133.87 L238.0,133.88 L239.0,133.89 L240.0,133.90 L241.0,133.90 L242.0,133.91 L243.0,133.91 L244.0,133.91 L245.0,133.92 L246.0,133.92 L247.0,133.92 L248.0,133.92 L249.0,133.93 L250.0,133.93 L251.0,133.93 L252.0,133.94 L253.0,133.94 L254.0,133.94 L255.0,133.94 L256.0,133.95 L257.0,133.95 L258.0,133.95 L259.0,133.95 L260.0,133.96 L261.0,133.96 L262.0,133.96 L263.0,133.97 L264.0,133.97 L265.0,133.97 L266.0,133.97 L267.0,133.98 L268.0,133.98 L269.0,133.98 L270.0,133.98 L271.0,133.99 L272.0,133.99 L273.0,133.99 L274.0,133.99 L275.0,134.00 L276.0,134.00 L277.0,134.00 L278.0,134.00 L279.0,134.01 L280.0,134.01 L281.0,134.01 L282.0,134.01 L283.0,134.02 L284.0,134.02 L285.0,134.02 L286.0,134.02 L287.0,134.03 L288.0,134.03 L289.0,134.03 L290.0,134.03 L291.0,134.04 L292.0,134.04 L293.0,134.04 L294.0,134.04 L295.0,134.05 L296.0,134.05 L297.0,134.05 L298.0,134.05 L299.0,134.05 L300.0,134.06 L301.0,134.06 L302.0,134.06 L303.0,134.06 L304.0,134.07 L305.0,134.07 L306.0,134.07 L307.0,134.07 L308.0,134.08 L309.0,134.08 L310.0,134.08 L311.0,134.08 L312.0,134.08 L313.0,134.09 L314.0,134.09 L315.0,134.09 L316.0,134.09 L317.0,134.09 L318.0,134.10 L319.0,134.10 L320.0,134.10 L321.0,134.10 L322.0,134.11 L323.0,134.11 L324.0,134.11 L325.0,134.11 L326.0,134.11 L327.0,134.12 L328.0,134.12 L329.0,134.12 L330.0,134.12 L331.0,134.12 L332.0,134.13 L333.0,134.13 L334.0,134.13 L335.0,134.13 L336.0,134.14 L337.0,134.14 L338.0,134.14 L339.0,134.14 L340.0,134.14 L341.0,134.15 L342.0,134.15 L343.0,134.15 L344.0,134.15 L345.0,134.15 L346.0,134.16 L347.0,134.16 L348.0,134.16 L349.0,134.16 L350.0,134.16 L351.0,134.17 L352.0,134.17 L353.0,134.17 L354.0,134.17 L355.0,134.17 L356.0,134.18 L357.0,134.18 L358.0,134.18 L359.0,134.18 L360.0,134.18 L361.0,134.19 L362.0,134.19 L363.0,134.19 L364.0,134.19 L365.0,134.19 L366.0,134.20 L367.0,134.20 L368.0,134.20 L369.0,134.20 L370.0,134.21 L371.0,134.21 L372.0,134.21 L373.0,134.21 L374.0,134.21 L375.0,134.22 L376.0,134.22 L377.0,134.22 L378.0,134.22 L379.0,134.22 L380.0,134.23 L381.0,134.23 L382.0,134.23 L383.0,134.23 L384.0,134.23 L385.0,134.24 L386.0,134.24 L387.0,134.24 L388.0,134.24 L389.0,134.24 L390.0,134.25 L391.0,134.25 L392.0,134.25 L393.0,134.25 L394.0,134.26 L395.0,134.26 L396.0,134.26 L397.0,134.26 L398.0,134.26 L399.0,134.27 L400.0,134.27 L401.0,134.27 L402.0,134.27 L403.0,134.28 L404.0,134.28 L405.0,134.28 L406.0,134.28 L407.0,134.28 L408.0,134.29 L409.0,134.29 L410.0,134.29 L411.0,134.29 L412.0,134.30 L413.0,134.30 L414.0,134.30" fill="none" stroke="#dd0a18" stroke-width="2.45" stroke-linejoin="round" stroke-linecap="round"/>
<path d="M58.0,254.80 L59.0,254.80 L60.0,254.81 L61.0,254.81 L62.0,254.81 L63.0,254.82 L64.0,254.82 L65.0,254.82 L66.0,254.83 L67.0,254.83 L68.0,254.83 L69.0,254.84 L70.0,254.84 L71.0,254.85 L72.0,254.85 L73.0,254.85 L74.0,254.86 L75.0,254.86 L76.0,254.86 L77.0,254.87 L78.0,254.87 L79.0,254.87 L80.0,254.88 L81.0,254.88 L82.0,254.88 L83.0,254.89 L84.0,254.89 L85.0,254.89 L86.0,254.90 L87.0,254.90 L88.0,254.90 L89.0,254.91 L90.0,254.91 L91.0,254.91 L92.0,254.92 L93.0,254.92 L94.0,254.92 L95.0,254.93 L96.0,254.93 L97.0,254.93 L98.0,254.94 L99.0,254.94 L100.0,254.94 L101.0,254.95 L102.0,254.95 L103.0,254.95 L104.0,254.96 L105.0,254.96 L106.0,254.96 L107.0,254.97 L108.0,254.97 L109.0,254.97 L110.0,254.98 L111.0,254.98 L112.0,254.98 L113.0,254.99 L114.0,254.99 L115.0,254.99 L116.0,255.00 L117.0,255.00 L118.0,255.00 L119.0,255.01 L120.0,255.01 L121.0,255.01 L122.0,255.02 L123.0,255.02 L124.0,255.02 L125.0,255.03 L126.0,255.03 L127.0,255.03 L128.0,255.04 L129.0,255.04 L130.0,255.04 L131.0,255.05 L132.0,255.05 L133.0,255.05 L134.0,255.06 L135.0,255.06 L136.0,255.06 L137.0,255.07 L138.0,255.07 L139.0,255.07 L140.0,255.08 L141.0,255.08 L142.0,255.08 L143.0,255.09 L144.0,255.09 L145.0,255.09 L146.0,255.10 L147.0,255.10 L148.0,255.10 L149.0,255.11 L150.0,255.11 L151.0,255.12 L152.0,255.12 L153.0,255.12 L154.0,255.13 L155.0,255.13 L156.0,255.13 L157.0,255.14 L158.0,255.14 L159.0,255.14 L160.0,255.15 L161.0,255.15 L162.0,255.15 L163.0,255.16 L164.0,255.16 L165.0,255.17 L166.0,255.17 L167.0,255.17 L168.0,255.18 L169.0,255.18 L170.0,255.18 L171.0,255.19 L172.0,255.19 L173.0,255.19 L174.0,255.20 L175.0,255.20 L176.0,255.21 L177.0,255.21 L178.0,255.21 L179.0,255.22 L180.0,255.22 L181.0,255.22 L182.0,255.23 L183.0,255.23 L184.0,255.24 L185.0,255.24 L186.0,255.24 L187.0,255.25 L188.0,255.25 L189.0,255.26 L190.0,255.26 L191.0,255.26 L192.0,255.27 L193.0,255.27 L194.0,255.28 L195.0,255.28 L196.0,255.28 L197.0,255.29 L198.0,255.29 L199.0,255.30 L200.0,255.30 L201.0,255.31 L202.0,255.32 L203.0,255.32 L204.0,255.33 L205.0,255.34 L206.0,255.35 L207.0,255.35 L208.0,255.36 L209.0,255.37 L210.0,255.38 L211.0,255.39 L212.0,255.40 L213.0,255.40 L214.0,255.41 L215.0,255.42 L216.0,255.43 L217.0,255.44 L218.0,255.44 L219.0,255.45 L220.0,255.46 L221.0,255.47 L222.0,255.48 L223.0,255.49 L224.0,255.50 L225.0,255.50 L226.0,255.51 L227.0,255.52 L228.0,255.53 L229.0,255.54 L230.0,255.55 L231.0,255.56 L232.0,255.57 L233.0,255.57 L234.0,255.58 L235.0,255.59 L236.0,255.60 L237.0,255.61 L238.0,255.62 L239.0,255.63 L240.0,255.64 L241.0,255.65 L242.0,255.66 L243.0,255.66 L244.0,255.67 L245.0,255.68 L246.0,255.69 L247.0,255.70 L248.0,255.71 L249.0,255.72 L250.0,255.73 L251.0,255.74 L252.0,255.75 L253.0,255.76 L254.0,255.77 L255.0,255.78 L256.0,255.78 L257.0,255.79 L258.0,255.80 L259.0,255.81 L260.0,255.82 L261.0,255.83 L262.0,255.84 L263.0,255.85 L264.0,255.86 L265.0,255.87 L266.0,255.88 L267.0,255.89 L268.0,255.90 L269.0,255.91 L270.0,255.92 L271.0,255.93 L272.0,255.94 L273.0,255.94 L274.0,255.95 L275.0,255.96 L276.0,255.97 L277.0,255.98 L278.0,255.99 L279.0,256.00 L280.0,256.01 L281.0,256.02 L282.0,256.03 L283.0,256.04 L284.0,256.05 L285.0,256.06 L286.0,256.07 L287.0,256.08 L288.0,256.09 L289.0,256.10 L290.0,256.11 L291.0,256.12 L292.0,256.12 L293.0,256.13 L294.0,256.14 L295.0,256.15 L296.0,256.16 L297.0,256.17 L298.0,256.18 L299.0,256.19 L300.0,256.20 L301.0,256.21 L302.0,256.22 L303.0,256.23 L304.0,256.24 L305.0,256.25 L306.0,256.27 L307.0,256.28 L308.0,256.29 L309.0,256.30 L310.0,256.31 L311.0,256.32 L312.0,256.33 L313.0,256.34 L314.0,256.35 L315.0,256.37 L316.0,256.38 L317.0,256.39 L318.0,256.40 L319.0,256.41 L320.0,256.42 L321.0,256.43 L322.0,256.44 L323.0,256.46 L324.0,256.47 L325.0,256.48 L326.0,256.49 L327.0,256.50 L328.0,256.51 L329.0,256.52 L330.0,256.53 L331.0,256.55 L332.0,256.56 L333.0,256.57 L334.0,256.58 L335.0,256.59 L336.0,256.60 L337.0,256.61 L338.0,256.63 L339.0,256.64 L340.0,256.65 L341.0,256.66 L342.0,256.67 L343.0,256.68 L344.0,256.69 L345.0,256.71 L346.0,256.72 L347.0,256.73 L348.0,256.74 L349.0,256.75 L350.0,256.76 L351.0,256.77 L352.0,256.79 L353.0,256.80 L354.0,256.81 L355.0,256.82 L356.0,256.83 L357.0,256.84 L358.0,256.85 L359.0,256.87 L360.0,256.88 L361.0,256.89 L362.0,256.90 L363.0,256.91 L364.0,256.92 L365.0,256.94 L366.0,256.95 L367.0,256.96 L368.0,256.97 L369.0,256.98 L370.0,256.99 L371.0,257.00 L372.0,257.02 L373.0,257.03 L374.0,257.04 L375.0,257.05 L376.0,257.06 L377.0,257.07 L378.0,257.09 L379.0,257.10 L380.0,257.11 L381.0,257.12 L382.0,257.13 L383.0,257.14 L384.0,257.16 L385.0,257.17 L386.0,257.18 L387.0,257.19 L388.0,257.20 L389.0,257.21 L390.0,257.22 L391.0,257.24 L392.0,257.25 L393.0,257.26 L394.0,257.27 L395.0,257.28 L396.0,257.29 L397.0,257.31 L398.0,257.32 L399.0,257.33 L400.0,257.34 L401.0,257.35 L402.0,257.36 L403.0,257.37 L404.0,257.39 L405.0,257.40 L406.0,257.41 L407.0,257.42 L408.0,257.43 L409.0,257.44 L410.0,257.45 L411.0,257.47 L412.0,257.48 L413.0,257.49 L414.0,257.50" fill="none" stroke="#2a3b9c" stroke-width="2.1" stroke-dasharray="0.3 4.3" stroke-linecap="round"/>
<path d="M58.0,230.70 L59.0,230.58 L60.1,230.46 L61.1,230.34 L62.2,230.21 L63.2,230.09 L64.2,229.97 L65.3,229.84 L66.3,229.72 L67.3,229.59 L68.4,229.47 L69.4,229.35 L70.5,229.23 L71.5,229.11 L72.5,228.99 L73.6,228.87 L74.6,228.75 L75.6,228.64 L76.7,228.52 L77.7,228.41 L78.8,228.31 L79.8,228.20 L80.8,228.14 L81.9,228.08 L82.9,228.01 L83.9,227.95 L84.9,227.89 L86.0,227.83 L87.0,227.77 L88.0,227.71 L89.1,227.65 L90.1,227.59 L91.1,227.53 L92.2,227.47 L93.2,227.41 L94.2,227.36 L95.2,227.31 L96.3,227.25 L97.3,227.20 L98.3,227.15 L99.4,227.11 L100.4,227.06 L101.4,227.02 L102.4,226.98 L103.5,226.94 L104.5,226.90 L105.5,226.90 L106.6,226.90 L107.6,226.90 L108.6,226.90 L109.7,226.90 L110.7,226.90 L111.7,226.90 L112.8,226.90 L113.8,226.90 L114.8,226.90 L115.9,226.90 L116.9,226.90 L117.9,226.90 L119.0,226.90 L120.0,226.90 L121.0,226.90 L122.1,226.90 L123.1,226.90 L124.1,226.90 L125.2,226.90 L126.2,226.90 L127.2,226.90 L128.3,226.90 L129.3,226.90 L130.3,226.95 L131.4,226.99 L132.4,227.05 L133.4,227.10 L134.4,227.16 L135.5,227.22 L136.5,227.28 L137.5,227.35 L138.6,227.42 L139.6,227.49 L140.6,227.56 L141.7,227.63 L142.7,227.70 L143.7,227.78 L144.7,227.85 L145.8,227.92 L146.8,228.00 L147.8,228.07 L148.9,228.15 L149.9,228.22 L150.9,228.29 L151.9,228.36 L153.0,228.43 L154.0,228.50 L155.0,228.57 L156.0,228.63 L157.0,228.70 L158.0,228.77 L159.1,228.84 L160.1,228.92 L161.1,228.99 L162.1,229.06 L163.1,229.13 L164.1,229.21 L165.1,229.28 L166.1,229.35 L167.1,229.43 L168.2,229.50 L169.2,229.58 L170.2,229.65 L171.2,229.73 L172.2,229.80 L173.2,229.87 L174.2,229.95 L175.2,230.02 L176.2,230.09 L177.3,230.17 L178.3,230.24 L179.3,230.31 L180.3,230.38 L181.3,230.45 L182.3,230.52 L183.3,230.59 L184.3,230.65 L185.3,230.72 L186.4,230.79 L187.4,230.85 L188.4,230.91 L189.4,230.97 L190.4,231.03 L191.4,231.09 L192.4,231.15 L193.4,231.20 L194.4,231.26 L195.5,231.31 L196.5,231.36 L197.5,231.41 L198.5,231.46 L199.5,231.50 L200.5,231.49 L201.6,231.48 L202.6,231.47 L203.6,231.46 L204.7,231.45 L205.7,231.44 L206.7,231.43 L207.8,231.42 L208.8,231.41 L209.8,231.40 L210.9,231.39 L211.9,231.37 L212.9,231.36 L214.0,231.35 L215.0,231.33 L216.0,231.32 L217.1,231.30 L218.1,231.29 L219.1,231.28 L220.2,231.26 L221.2,231.25 L222.2,231.23 L223.3,231.22 L224.3,231.20 L225.3,231.14 L226.4,231.09 L227.4,231.02 L228.4,230.96 L229.4,230.89 L230.5,230.82 L231.5,230.75 L232.5,230.68 L233.6,230.60 L234.6,230.52 L235.6,230.45 L236.7,230.37 L237.7,230.29 L238.7,230.21 L239.7,230.14 L240.8,230.06 L241.8,229.98 L242.8,229.91 L243.9,229.84 L244.9,229.76 L245.9,229.69 L246.9,229.63 L248.0,229.56 L249.0,229.50 L250.0,229.47 L251.0,229.44 L252.0,229.41 L253.0,229.38 L254.0,229.35 L255.0,229.33 L256.0,229.30 L257.0,229.27 L258.0,229.24 L259.0,229.21 L260.0,229.18 L261.0,229.15 L262.0,229.12 L263.0,229.10 L264.0,229.07 L265.0,229.04 L266.0,229.01 L267.0,228.98 L268.0,228.95 L269.0,228.93 L270.0,228.90 L271.0,228.87 L272.0,228.84 L273.0,228.81 L274.0,228.79 L275.0,228.76 L276.0,228.73 L277.0,228.71 L278.0,228.68 L279.0,228.65 L280.0,228.62 L281.0,228.60 L282.0,228.57 L283.0,228.54 L284.0,228.52 L285.0,228.49 L286.0,228.47 L287.0,228.44 L288.0,228.41 L289.0,228.39 L290.0,228.36 L291.0,228.34 L292.0,228.31 L293.0,228.28 L294.0,228.26 L295.0,228.23 L296.0,228.21 L297.0,228.19 L298.0,228.16 L299.0,228.14 L300.0,228.11 L301.0,228.09 L302.0,228.06 L303.0,228.04 L304.0,228.02 L305.0,227.99 L306.0,227.97 L307.0,227.95 L308.0,227.92 L309.0,227.90 L310.0,227.88 L311.0,227.85 L312.0,227.83 L313.0,227.81 L314.0,227.79 L315.0,227.77 L316.0,227.74 L317.0,227.72 L318.0,227.70 L319.0,227.68 L320.0,227.66 L321.0,227.64 L322.0,227.62 L323.0,227.60 L324.0,227.58 L325.0,227.56 L326.0,227.54 L327.0,227.52 L328.0,227.50 L329.0,227.48 L330.0,227.46 L331.0,227.44 L332.0,227.42 L333.0,227.40 L334.0,227.39 L335.0,227.37 L336.0,227.35 L337.0,227.33 L338.0,227.31 L339.0,227.30 L340.0,227.28 L341.0,227.26 L342.0,227.25 L343.0,227.23 L344.0,227.22 L345.0,227.20 L346.0,227.20 L347.0,227.21 L348.0,227.21 L349.0,227.21 L350.0,227.22 L351.0,227.22 L352.0,227.22 L353.0,227.23 L354.0,227.23 L355.0,227.24 L356.0,227.24 L357.0,227.25 L358.0,227.25 L359.0,227.25 L360.0,227.26 L361.0,227.26 L362.0,227.27 L363.0,227.27 L364.0,227.28 L365.0,227.28 L366.0,227.29 L367.0,227.29 L368.0,227.30 L369.0,227.33 L370.0,227.36 L371.0,227.39 L372.1,227.42 L373.1,227.45 L374.1,227.48 L375.1,227.52 L376.1,227.55 L377.1,227.59 L378.1,227.62 L379.1,227.66 L380.2,227.69 L381.2,227.73 L382.2,227.77 L383.2,227.81 L384.2,227.85 L385.2,227.89 L386.2,227.93 L387.3,227.97 L388.3,228.01 L389.3,228.05 L390.3,228.09 L391.3,228.13 L392.3,228.17 L393.3,228.21 L394.4,228.26 L395.4,228.30 L396.4,228.34 L397.4,228.38 L398.4,228.43 L399.4,228.47 L400.4,228.51 L401.5,228.55 L402.5,228.59 L403.5,228.64 L404.5,228.68 L405.5,228.72 L406.5,228.76 L407.5,228.80 L408.5,228.84 L409.6,228.88 L410.6,228.92 L411.6,228.96 L412.6,229.00" fill="none" stroke="#dd0a18" stroke-width="2.1" stroke-dasharray="0.3 4.3" stroke-linecap="round"/>
<path d="M58.0,178.70 L59.0,178.32 L60.1,177.94 L61.1,177.56 L62.2,177.17 L63.2,176.79 L64.2,176.40 L65.3,176.02 L66.3,175.64 L67.3,175.26 L68.4,174.89 L69.4,174.52 L70.5,174.16 L71.5,173.80 L72.5,173.53 L73.6,173.26 L74.6,172.99 L75.6,172.72 L76.7,172.45 L77.7,172.19 L78.7,171.93 L79.8,171.67 L80.8,171.42 L81.8,171.16 L82.8,170.91 L83.9,170.66 L84.9,170.42 L85.9,170.18 L87.0,169.94 L88.0,169.70 L89.0,169.53 L90.1,169.36 L91.1,169.18 L92.1,169.00 L93.2,168.83 L94.2,168.65 L95.2,168.48 L96.2,168.31 L97.3,168.15 L98.3,167.99 L99.3,167.84 L100.4,167.69 L101.4,167.55 L102.4,167.43 L103.5,167.31 L104.5,167.20 L105.5,167.24 L106.5,167.29 L107.5,167.34 L108.6,167.40 L109.6,167.46 L110.6,167.52 L111.6,167.58 L112.6,167.65 L113.6,167.72 L114.7,167.79 L115.7,167.86 L116.7,167.93 L117.7,168.00 L118.7,168.14 L119.8,168.28 L120.8,168.42 L121.8,168.57 L122.9,168.73 L123.9,168.88 L124.9,169.04 L125.9,169.21 L127.0,169.37 L128.0,169.53 L129.0,169.70 L130.1,169.86 L131.1,170.02 L132.1,170.19 L133.2,170.34 L134.2,170.50 L135.3,170.65 L136.3,170.79 L137.4,170.94 L138.4,171.08 L139.5,171.22 L140.5,171.36 L141.6,171.50 L142.6,171.64 L143.7,171.79 L144.7,171.93 L145.8,172.08 L146.8,172.23 L147.9,172.38 L148.9,172.54 L150.0,172.70 L151.0,172.95 L152.1,173.22 L153.1,173.49 L154.1,173.76 L155.2,174.04 L156.2,174.33 L157.2,174.62 L158.2,174.91 L159.3,175.21 L160.3,175.50 L161.3,175.79 L162.4,176.08 L163.4,176.37 L164.4,176.65 L165.5,176.93 L166.5,177.20 L167.6,177.43 L168.6,177.66 L169.7,177.89 L170.7,178.12 L171.8,178.35 L172.8,178.58 L173.8,178.80 L174.9,179.03 L176.0,179.25 L177.0,179.47 L178.1,179.69 L179.1,179.90 L180.2,180.11 L181.2,180.31 L182.2,180.51 L183.3,180.70 L184.3,180.81 L185.3,180.91 L186.3,181.01 L187.4,181.11 L188.4,181.21 L189.4,181.31 L190.4,181.40 L191.4,181.50 L192.4,181.59 L193.4,181.68 L194.4,181.77 L195.4,181.86 L196.5,181.95 L197.5,182.03 L198.5,182.12 L199.5,182.20 L200.6,182.26 L201.6,182.31 L202.7,182.37 L203.7,182.42 L204.8,182.48 L205.8,182.53 L206.8,182.58 L207.9,182.62 L208.9,182.66 L210.0,182.70 L211.0,182.62 L212.0,182.52 L213.0,182.41 L214.0,182.30 L215.0,182.17 L216.0,182.04 L217.0,181.91 L218.0,181.78 L219.0,181.64 L220.0,181.50 L221.0,181.23 L222.1,180.94 L223.1,180.63 L224.2,180.32 L225.2,179.99 L226.2,179.67 L227.3,179.34 L228.3,179.01 L229.4,178.69 L230.4,178.38 L231.5,178.08 L232.5,177.80 L233.5,177.64 L234.6,177.48 L235.6,177.32 L236.6,177.17 L237.6,177.02 L238.7,176.87 L239.7,176.72 L240.7,176.58 L241.8,176.44 L242.8,176.29 L243.8,176.15 L244.9,176.01 L245.9,175.87 L246.9,175.73 L247.9,175.59 L249.0,175.44 L250.0,175.30 L251.0,175.16 L252.0,175.02 L253.0,174.88 L254.0,174.74 L255.0,174.60 L256.0,174.46 L257.0,174.32 L258.0,174.17 L259.0,174.03 L260.0,173.89 L261.0,173.75 L262.0,173.60 L263.0,173.46 L264.0,173.32 L265.0,173.18 L266.0,173.04 L267.0,172.90 L268.0,172.77 L269.0,172.63 L270.0,172.50 L271.0,172.37 L272.0,172.24 L273.0,172.11 L274.0,171.98 L275.0,171.86 L276.0,171.73 L277.0,171.62 L278.0,171.50 L279.0,171.44 L280.0,171.38 L281.0,171.32 L282.0,171.27 L283.0,171.21 L284.0,171.16 L285.0,171.10 L286.0,171.05 L287.0,170.99 L288.0,170.94 L289.0,170.89 L290.0,170.84 L291.0,170.78 L292.0,170.73 L293.0,170.68 L294.0,170.63 L295.0,170.58 L296.0,170.53 L297.0,170.48 L298.0,170.44 L299.0,170.39 L300.0,170.34 L301.0,170.29 L302.0,170.24 L303.0,170.19 L304.0,170.14 L305.0,170.09 L306.0,170.05 L307.0,170.00 L308.0,169.95 L309.0,169.90 L310.0,169.85 L311.0,169.80 L312.0,169.76 L313.0,169.71 L314.0,169.67 L315.0,169.62 L316.0,169.57 L317.0,169.53 L318.0,169.48 L319.0,169.43 L320.0,169.38 L321.0,169.34 L322.0,169.29 L323.0,169.24 L324.0,169.20 L325.0,169.15 L326.0,169.10 L327.0,169.06 L328.0,169.01 L329.0,168.96 L330.0,168.92 L331.0,168.88 L332.0,168.83 L333.0,168.79 L334.0,168.75 L335.0,168.71 L336.0,168.67 L337.0,168.63 L338.0,168.59 L339.0,168.56 L340.0,168.52 L341.0,168.49 L342.0,168.46 L343.0,168.43 L344.0,168.40 L345.1,168.42 L346.1,168.45 L347.2,168.47 L348.3,168.50 L349.4,168.53 L350.4,168.57 L351.5,168.60 L352.5,168.70 L353.6,168.80 L354.6,168.91 L355.6,169.03 L356.7,169.15 L357.7,169.27 L358.7,169.40 L359.8,169.52 L360.8,169.66 L361.8,169.79 L362.9,169.93 L363.9,170.06 L364.9,170.20 L366.0,170.33 L367.0,170.47 L368.0,170.61 L369.1,170.74 L370.1,170.87 L371.1,171.00 L372.2,171.13 L373.2,171.25 L374.2,171.37 L375.3,171.49 L376.3,171.60 L377.3,171.66 L378.3,171.72 L379.3,171.78 L380.3,171.84 L381.3,171.89 L382.4,171.95 L383.4,172.01 L384.4,172.06 L385.4,172.12 L386.4,172.17 L387.4,172.22 L388.4,172.28 L389.4,172.33 L390.4,172.38 L391.4,172.43 L392.4,172.48 L393.4,172.53 L394.5,172.59 L395.5,172.64 L396.5,172.69 L397.5,172.74 L398.5,172.79 L399.5,172.84 L400.5,172.89 L401.5,172.94 L402.5,172.99 L403.5,173.04 L404.5,173.09 L405.5,173.14 L406.6,173.19 L407.6,173.24 L408.6,173.29 L409.6,173.34 L410.6,173.40 L411.6,173.45 L412.6,173.50" fill="none" stroke="#27ad25" stroke-width="2.1" stroke-dasharray="0.3 4.3" stroke-linecap="round"/>
<path d="M58.0,245.50 L59.0,245.74 L60.0,246.00 L61.0,246.50 L62.0,247.04 L63.0,247.61 L64.0,248.21 L65.0,248.83 L66.0,249.46 L67.0,250.09 L68.0,250.71 L69.0,251.32 L70.0,251.90 L71.0,252.45 L72.0,252.95 L73.0,253.41 L74.0,253.80 L75.1,253.60 L76.1,253.36 L77.2,253.10 L78.3,252.81 L79.3,252.51 L80.4,252.20 L81.5,251.89 L82.6,251.58 L83.6,251.28 L84.7,251.00 L85.7,250.77 L86.7,250.54 L87.7,250.32 L88.8,250.09 L89.8,249.88 L90.8,249.66 L91.8,249.43 L92.8,249.21 L93.8,248.98 L94.9,248.75 L95.9,248.51 L96.9,248.26 L97.9,248.00 L98.9,247.50 L99.9,246.95 L100.9,246.36 L101.9,245.75 L102.9,245.13 L103.9,244.49 L104.9,243.85 L105.9,243.22 L106.9,242.61 L107.9,242.02 L108.9,241.47 L109.9,240.96 L110.9,240.50 L111.9,240.10 L112.9,240.53 L113.9,241.03 L115.0,241.59 L116.0,242.20 L117.0,242.85 L118.0,243.53 L119.1,244.23 L120.1,244.94 L121.1,245.66 L122.1,246.37 L123.2,247.07 L124.2,247.75 L125.2,248.40 L126.2,249.01 L127.3,249.57 L128.3,250.07 L129.3,250.50 L130.4,250.37 L131.5,250.19 L132.6,250.00 L133.6,249.51 L134.7,248.93 L135.7,248.31 L136.7,247.67 L137.7,247.04 L138.8,246.45 L139.8,245.92 L140.8,245.50 L141.8,245.90 L142.8,246.37 L143.9,246.90 L144.9,247.47 L145.9,248.07 L146.9,248.69 L148.0,249.31 L149.0,249.91 L150.0,250.50 L151.1,251.21 L152.2,251.96 L153.3,252.72 L154.4,253.44 L155.5,254.08 L156.6,254.60 L157.7,254.27 L158.8,253.88 L159.9,253.45 L161.0,252.98 L162.1,252.48 L163.2,251.98 L164.3,251.47 L165.4,250.97 L166.5,250.50 L167.5,250.05 L168.6,249.58 L169.6,249.10 L170.6,248.62 L171.7,248.12 L172.7,247.63 L173.7,247.13 L174.8,246.65 L175.8,246.17 L176.8,245.70 L177.8,245.26 L178.9,244.83 L179.9,244.43 L180.9,244.05 L182.0,243.71 L183.0,243.40 L184.1,243.86 L185.1,244.41 L186.2,245.03 L187.3,245.70 L188.3,246.40 L189.4,247.11 L190.5,247.82 L191.6,248.50 L192.6,249.13 L193.7,249.70 L194.8,250.00 L195.9,250.28 L197.0,250.50 L198.0,250.36 L199.0,250.18 L200.0,249.98 L201.0,249.76 L202.1,249.54 L203.1,249.32 L204.1,249.12 L205.1,248.94 L206.1,248.80 L207.2,249.08 L208.2,249.40 L209.3,249.76 L210.4,250.15 L211.4,250.57 L212.5,251.00 L213.6,251.44 L214.6,251.89 L215.7,252.33 L216.7,252.77 L217.8,253.19 L218.9,253.59 L219.9,253.96 L221.0,254.30 L222.2,254.47 L223.4,254.64 L224.7,254.78 L225.9,254.90 L226.9,254.79 L227.9,254.68 L228.9,254.55 L229.9,254.42 L230.9,254.28 L231.9,254.13 L232.9,253.98 L233.9,253.82 L234.9,253.65 L235.9,253.49 L236.9,253.32 L238.0,253.14 L239.0,252.97 L240.0,252.79 L241.0,252.62 L242.0,252.44 L243.0,252.27 L244.0,252.10 L245.0,251.93 L246.0,251.77 L247.0,251.61 L248.0,251.45 L249.0,251.30 L250.0,251.18 L251.0,251.07 L252.1,250.96 L253.1,250.85 L254.1,250.74 L255.1,250.63 L256.2,250.52 L257.2,250.42 L258.2,250.31 L259.2,250.21 L260.3,250.11 L261.3,250.00 L262.3,249.90 L263.3,249.80 L264.4,249.70 L265.4,249.60 L266.4,249.49 L267.4,249.39 L268.4,249.29 L269.5,249.19 L270.5,249.09 L271.5,248.98 L272.5,248.88 L273.6,248.78 L274.6,248.67 L275.6,248.57 L276.6,248.46 L277.7,248.35 L278.7,248.25 L279.7,248.14 L280.7,248.03 L281.8,247.91 L282.8,247.80 L283.8,247.68 L284.8,247.56 L285.9,247.45 L286.9,247.32 L287.9,247.20 L288.9,246.98 L290.0,246.75 L291.0,246.51 L292.0,246.25 L293.1,245.99 L294.1,245.72 L295.1,245.46 L296.1,245.19 L297.2,244.93 L298.2,244.67 L299.2,244.42 L300.3,244.18 L301.3,243.96 L302.3,243.75 L303.4,243.57 L304.4,243.40 L305.5,243.66 L306.6,243.98 L307.7,244.34 L308.8,244.72 L309.9,245.11 L311.0,245.50 L312.1,246.05 L313.1,246.63 L314.2,247.23 L315.2,247.84 L316.3,248.46 L317.3,249.09 L318.4,249.71 L319.4,250.33 L320.5,250.94 L321.5,251.53 L322.6,252.10 L323.7,252.56 L324.8,253.02 L325.9,253.48 L327.0,253.91 L328.1,254.29 L329.2,254.60 L330.3,254.56 L331.3,254.51 L332.4,254.46 L333.4,254.40 L334.5,254.34 L335.5,254.27 L336.6,254.20 L337.7,254.14 L338.7,254.07 L339.8,254.01 L340.8,253.95 L341.9,253.89 L342.9,253.84 L344.0,253.80 L345.0,253.80 L346.0,253.79 L347.1,253.79 L348.1,253.79 L349.1,253.78 L350.1,253.78 L351.2,253.78 L352.2,253.77 L353.2,253.77 L354.2,253.77 L355.3,253.76 L356.3,253.76 L357.3,253.76 L358.3,253.75 L359.4,253.75 L360.4,253.75 L361.4,253.75 L362.4,253.74 L363.4,253.74 L364.5,253.74 L365.5,253.74 L366.5,253.73 L367.5,253.73 L368.6,253.73 L369.6,253.73 L370.6,253.72 L371.6,253.72 L372.7,253.72 L373.7,253.72 L374.7,253.71 L375.7,253.71 L376.8,253.71 L377.8,253.71 L378.8,253.71 L379.8,253.71 L380.9,253.70 L381.9,253.70 L382.9,253.70 L383.9,253.81 L384.9,253.92 L385.9,254.05 L386.9,254.17 L387.9,254.31 L389.0,254.45 L390.0,254.59 L391.0,254.74 L392.0,254.90 L393.0,255.05 L394.0,255.22 L395.0,255.38 L396.0,255.55 L397.0,255.72 L398.0,255.89 L399.1,256.07 L400.1,256.25 L401.1,256.42 L402.1,256.60 L403.1,256.78 L404.1,256.96 L405.1,257.14 L406.1,257.32 L407.1,257.50 L408.1,257.68 L409.2,257.86 L410.2,258.03 L411.2,258.20 L412.2,258.37 L413.2,258.54 L414.2,258.70" fill="none" stroke="#2a3b9c" stroke-width="2.45" stroke-linejoin="round" stroke-linecap="round"/>
<path d="M58.0,237.80 L59.4,237.80 L60.8,237.80 L61.8,238.47 L62.8,239.26 L63.8,240.15 L64.9,241.12 L65.9,242.15 L66.9,243.21 L67.9,244.29 L68.9,245.35 L69.9,246.38 L71.0,247.35 L72.0,248.24 L73.0,249.03 L74.0,249.70 L75.1,249.40 L76.1,249.04 L77.2,248.64 L78.3,248.20 L79.3,247.74 L80.4,247.27 L81.5,246.80 L82.6,246.35 L83.6,245.91 L84.7,245.50 L85.7,245.23 L86.8,244.96 L87.8,244.71 L88.8,244.46 L89.9,244.20 L90.9,243.95 L92.0,243.68 L93.0,243.40 L94.0,242.99 L95.0,242.57 L96.1,242.15 L97.1,241.71 L98.1,241.26 L99.2,240.79 L100.2,240.31 L101.2,239.80 L102.3,238.68 L103.3,237.44 L104.4,236.10 L105.5,234.71 L106.6,233.31 L107.6,231.93 L108.7,230.61 L109.8,229.39 L110.8,228.31 L111.9,227.40 L113.0,227.83 L114.0,228.33 L115.1,228.90 L116.2,229.51 L117.3,230.16 L118.3,230.83 L119.4,231.50 L120.5,232.87 L121.6,234.40 L122.7,236.04 L123.8,237.73 L124.9,239.42 L126.0,241.05 L127.1,242.56 L128.2,243.89 L129.3,245.00 L130.4,244.84 L131.5,244.63 L132.6,244.40 L133.6,243.56 L134.7,242.57 L135.7,241.48 L136.7,240.35 L137.7,239.23 L138.8,238.18 L139.8,237.25 L140.8,236.50 L141.8,236.97 L142.9,237.56 L143.9,238.22 L144.9,238.90 L145.9,240.11 L146.9,241.43 L148.0,242.80 L149.0,244.18 L150.0,245.50 L151.1,246.77 L152.2,248.09 L153.3,249.39 L154.4,250.62 L155.5,251.71 L156.6,252.60 L157.7,251.96 L158.8,251.21 L159.9,250.36 L161.0,249.44 L162.1,248.48 L163.2,247.50 L164.3,246.53 L165.4,245.59 L166.5,244.70 L167.6,243.95 L168.7,243.20 L169.8,242.45 L170.9,241.71 L172.0,240.98 L173.1,240.25 L174.2,239.53 L175.3,238.81 L176.4,238.10 L177.5,237.46 L178.6,236.79 L179.7,236.13 L180.8,235.50 L181.9,234.95 L183.0,234.50 L184.0,234.93 L185.0,235.45 L186.0,236.05 L187.0,236.68 L188.0,237.30 L189.1,238.31 L190.1,239.41 L191.2,240.55 L192.2,241.70 L193.3,242.81 L194.3,243.82 L195.4,244.70 L196.7,244.98 L197.9,245.20 L199.0,244.86 L200.0,244.43 L201.1,243.95 L202.1,243.45 L203.2,242.97 L204.2,242.54 L205.3,242.20 L206.6,242.42 L207.8,242.70 L208.8,243.24 L209.8,243.83 L210.8,244.46 L211.9,245.13 L212.9,245.81 L213.9,246.51 L214.9,247.22 L215.9,247.91 L216.9,248.60 L218.0,249.26 L219.0,249.88 L220.0,250.47 L221.0,251.00 L222.1,251.21 L223.2,251.42 L224.3,251.62 L225.4,251.80 L226.5,251.97 L227.6,252.10 L228.7,251.91 L229.8,251.68 L230.9,251.43 L232.0,251.16 L233.1,250.87 L234.2,250.57 L235.3,250.27 L236.4,249.98 L237.5,249.70 L238.5,249.41 L239.6,249.10 L240.6,248.80 L241.7,248.49 L242.7,248.18 L243.8,247.87 L244.8,247.56 L245.9,247.26 L246.9,246.96 L248.0,246.68 L249.0,246.40 L250.0,246.22 L251.1,246.04 L252.1,245.87 L253.2,245.70 L254.2,245.53 L255.2,245.37 L256.3,245.21 L257.3,245.05 L258.4,244.89 L259.4,244.72 L260.5,244.56 L261.5,244.40 L262.5,244.25 L263.5,244.11 L264.5,243.97 L265.6,243.83 L266.6,243.69 L267.6,243.55 L268.6,243.41 L269.6,243.28 L270.6,243.15 L271.7,243.01 L272.7,242.88 L273.7,242.74 L274.7,242.61 L275.7,242.47 L276.7,242.33 L277.7,242.19 L278.8,242.05 L279.8,241.90 L280.8,241.75 L281.8,241.60 L282.8,241.44 L283.8,241.28 L284.9,241.12 L285.9,240.95 L286.9,240.78 L287.9,240.60 L289.0,240.12 L290.0,239.60 L291.1,239.05 L292.1,238.47 L293.2,237.87 L294.2,237.27 L295.3,236.67 L296.3,236.08 L297.4,235.52 L298.4,234.99 L299.5,234.50 L300.7,234.22 L301.9,233.94 L303.2,233.69 L304.4,233.50 L305.5,233.87 L306.6,234.31 L307.7,234.82 L308.8,235.36 L309.9,235.93 L311.0,236.50 L312.1,237.63 L313.2,238.87 L314.3,240.17 L315.4,241.52 L316.5,242.89 L317.6,244.25 L318.7,245.57 L319.8,246.83 L320.9,248.00 L321.9,248.65 L323.0,249.30 L324.0,249.95 L325.0,250.57 L326.1,251.16 L327.1,251.70 L328.2,252.19 L329.2,252.60 L330.2,252.55 L331.2,252.50 L332.2,252.44 L333.2,252.37 L334.2,252.30 L335.2,252.23 L336.2,252.15 L337.2,252.07 L338.2,251.99 L339.2,251.91 L340.2,251.83 L341.2,251.75 L342.2,251.67 L343.2,251.60 L344.2,251.53 L345.2,251.46 L346.2,251.40 L347.2,251.35 L348.2,251.30 L349.2,251.33 L350.3,251.36 L351.3,251.40 L352.4,251.44 L353.4,251.48 L354.5,251.53 L355.5,251.58 L356.5,251.63 L357.6,251.68 L358.6,251.72 L359.7,251.77 L360.7,251.82 L361.7,251.87 L362.8,251.92 L363.8,251.96 L364.9,252.00 L365.9,252.04 L367.0,252.07 L368.0,252.10 L369.1,252.04 L370.1,251.97 L371.2,251.88 L372.3,251.79 L373.3,251.70 L374.4,251.60 L375.4,251.50 L376.5,251.40 L377.6,251.30 L378.6,251.21 L379.7,251.12 L380.8,251.03 L381.8,250.96 L382.9,250.90 L383.9,251.16 L384.9,251.47 L386.0,251.82 L387.0,252.20 L388.0,252.59 L389.1,252.98 L390.1,253.35 L391.1,253.70 L392.1,253.94 L393.1,254.17 L394.1,254.40 L395.1,254.63 L396.1,254.85 L397.1,255.07 L398.1,255.29 L399.1,255.51 L400.1,255.72 L401.1,255.94 L402.1,256.15 L403.2,256.36 L404.2,256.58 L405.2,256.79 L406.2,257.00 L407.2,257.21 L408.2,257.42 L409.2,257.63 L410.2,257.84 L411.2,258.05 L412.2,258.27 L413.2,258.48 L414.2,258.70" fill="none" stroke="#dd0a18" stroke-width="2.45" stroke-linejoin="round" stroke-linecap="round"/>
<path d="M58.0,192.90 L59.2,192.90 L60.4,192.90 L61.6,192.90 L62.7,195.34 L63.7,198.26 L64.8,201.56 L65.8,205.14 L66.9,208.89 L67.9,212.73 L69.0,216.54 L70.0,220.22 L71.1,223.68 L72.1,226.80 L73.2,229.50 L74.5,230.20 L75.5,229.13 L76.5,227.86 L77.6,226.43 L78.6,224.89 L79.6,223.27 L80.6,221.61 L81.6,219.97 L82.7,218.37 L83.7,216.87 L84.7,215.50 L85.7,214.72 L86.8,213.99 L87.8,213.29 L88.8,212.61 L89.9,211.93 L90.9,211.23 L92.0,210.49 L93.0,209.70 L94.1,208.23 L95.2,206.69 L96.3,205.09 L97.4,203.41 L98.5,201.65 L99.6,199.80 L100.6,196.63 L101.7,193.20 L102.7,189.62 L103.7,186.00 L104.7,181.43 L105.8,176.61 L106.8,171.98 L107.8,168.00 L108.8,166.78 L109.8,165.66 L110.9,164.68 L111.9,163.90 L113.0,164.57 L114.1,165.43 L115.2,166.40 L116.2,169.58 L117.2,173.28 L118.2,177.25 L119.2,181.24 L120.2,185.00 L121.5,188.71 L122.7,192.40 L123.8,196.27 L124.9,200.42 L126.0,204.61 L127.1,208.59 L128.2,212.13 L129.3,215.00 L130.4,214.68 L131.5,214.27 L132.6,213.80 L133.7,210.71 L134.8,206.89 L135.9,202.72 L137.0,198.58 L138.1,194.85 L139.2,191.90 L140.3,191.78 L141.4,191.68 L142.5,191.60 L143.7,194.57 L144.9,198.20 L146.0,202.26 L147.0,206.52 L148.1,210.89 L149.2,215.30 L150.3,219.65 L151.3,223.88 L152.4,227.90 L153.6,231.26 L154.8,234.48 L156.0,237.00 L157.0,236.12 L158.0,235.01 L159.0,233.77 L160.0,232.50 L161.1,230.08 L162.2,227.46 L163.2,224.72 L164.3,221.93 L165.4,219.17 L166.5,216.50 L167.6,214.14 L168.7,211.82 L169.8,209.52 L170.9,207.22 L172.0,204.89 L173.1,202.50 L174.2,199.57 L175.3,196.50 L176.4,193.39 L177.5,190.35 L178.6,187.48 L179.7,184.90 L180.8,183.76 L181.9,182.71 L183.0,181.90 L184.1,183.64 L185.2,185.86 L186.3,188.20 L187.4,191.71 L188.5,195.55 L189.6,199.54 L190.7,203.54 L191.8,207.39 L192.9,210.93 L194.0,214.00 L195.3,215.02 L196.7,215.80 L197.7,214.80 L198.8,213.53 L199.8,212.09 L200.9,210.61 L201.9,209.17 L203.0,207.90 L204.0,206.90 L205.1,207.19 L206.2,207.58 L207.3,208.00 L208.3,209.67 L209.3,211.57 L210.3,213.65 L211.3,215.86 L212.3,218.17 L213.3,220.52 L214.3,222.89 L215.3,225.21 L216.3,227.46 L217.3,229.59 L218.3,231.55 L219.3,233.30 L220.4,233.93 L221.5,234.54 L222.5,235.10 L223.6,235.60 L224.7,236.00 L225.7,235.86 L226.7,235.69 L227.7,235.50 L228.7,235.30 L229.8,234.66 L230.8,233.97 L231.8,233.24 L232.9,232.47 L233.9,231.67 L235.0,230.84 L236.0,230.00 L237.1,229.14 L238.2,228.27 L239.2,227.40 L240.2,226.54 L241.3,225.69 L242.3,224.85 L243.4,224.04 L244.4,223.25 L245.5,222.50 L246.5,221.99 L247.6,221.48 L248.6,220.99 L249.6,220.50 L250.6,220.01 L251.7,219.53 L252.7,219.06 L253.7,218.59 L254.8,218.12 L255.8,217.66 L256.8,217.19 L257.8,216.73 L258.9,216.27 L259.9,215.80 L261.0,215.35 L262.1,214.91 L263.2,214.47 L264.3,214.04 L265.4,213.60 L266.5,213.16 L267.6,212.72 L268.7,212.26 L269.8,211.80 L270.8,211.24 L271.9,210.66 L272.9,210.07 L273.9,209.47 L274.9,208.88 L275.9,208.30 L277.0,207.73 L278.0,207.20 L279.1,206.85 L280.1,206.53 L281.2,206.22 L282.2,205.92 L283.3,205.60 L284.3,205.27 L285.4,204.90 L286.4,204.16 L287.5,203.35 L288.6,202.49 L289.6,201.60 L290.8,200.05 L292.1,198.41 L293.3,196.72 L294.5,195.00 L295.5,193.19 L296.6,191.26 L297.6,189.26 L298.6,187.26 L299.7,185.32 L300.7,183.51 L301.8,181.88 L302.8,180.50 L303.9,180.38 L304.9,180.28 L306.0,180.20 L307.1,182.03 L308.2,184.25 L309.4,186.75 L310.5,189.44 L311.6,192.23 L312.7,195.00 L313.9,199.72 L315.1,204.76 L316.4,209.88 L317.6,214.80 L318.6,218.11 L319.6,221.42 L320.6,224.64 L321.6,227.70 L322.6,230.50 L323.7,232.00 L324.8,233.46 L325.9,234.85 L327.0,236.13 L328.1,237.26 L329.2,238.20 L330.3,238.11 L331.5,238.00 L332.6,237.87 L333.8,237.74 L334.9,237.60 L336.0,237.34 L337.0,237.05 L338.1,236.74 L339.2,236.42 L340.2,236.09 L341.3,235.76 L342.3,235.44 L343.4,235.14 L344.5,234.86 L345.5,234.61 L346.6,234.40 L347.6,234.49 L348.6,234.59 L349.6,234.71 L350.6,234.83 L351.6,234.97 L352.6,235.11 L353.6,235.25 L354.6,235.40 L355.6,235.55 L356.7,235.70 L357.7,235.85 L358.7,235.99 L359.7,236.13 L360.7,236.27 L361.7,236.39 L362.7,236.51 L363.7,236.61 L364.7,236.70 L365.7,236.60 L366.8,236.49 L367.8,236.36 L368.9,236.22 L369.9,236.08 L370.9,235.92 L372.0,235.76 L373.0,235.60 L374.0,235.20 L375.0,234.74 L376.0,234.24 L377.0,233.73 L378.0,233.21 L379.0,232.71 L380.0,232.25 L381.0,231.84 L382.0,231.50 L383.1,231.81 L384.1,232.20 L385.1,232.64 L386.2,233.10 L387.3,234.30 L388.4,235.64 L389.5,237.07 L390.6,238.54 L391.7,240.00 L392.8,241.40 L393.8,242.56 L394.9,243.73 L395.9,244.91 L396.9,246.07 L397.9,247.21 L398.9,248.32 L400.0,249.39 L401.0,250.40 L402.0,250.97 L403.0,251.52 L404.0,252.05 L405.1,252.57 L406.1,253.08 L407.1,253.57 L408.1,254.06 L409.1,254.55 L410.1,255.03 L411.2,255.52 L412.2,256.00 L413.2,256.50 L414.2,257.00" fill="none" stroke="#27ad25" stroke-width="2.45" stroke-linejoin="round" stroke-linecap="round"/>
<path d="M224.5,43 H263" stroke="#2a3b9c" stroke-width="2.9"/>
<text transform="translate(267.38,47.10) scale(1.103,1)" font-size="15.21">em 350 to 505nm</text>
<path d="M224.5,62 H263" stroke="#27ad25" stroke-width="2.9"/>
<text transform="translate(267.38,66.30) scale(1.103,1)" font-size="15.21">em 505 to 560nm</text>
<path d="M224.5,81 H263" stroke="#dd0a18" stroke-width="2.9"/>
<text transform="translate(267.38,85.40) scale(1.103,1)" font-size="15.21">em 560 to 650nm</text>
<ellipse cx="244.00" cy="102" rx="1.15" ry="1.45" fill="#000"/>
<ellipse cx="248.45" cy="102" rx="1.15" ry="1.45" fill="#000"/>
<ellipse cx="252.90" cy="102" rx="1.15" ry="1.45" fill="#000"/>
<ellipse cx="257.35" cy="102" rx="1.15" ry="1.45" fill="#000"/>
<ellipse cx="261.80" cy="102" rx="1.15" ry="1.45" fill="#000"/>
<ellipse cx="266.25" cy="102" rx="1.15" ry="1.45" fill="#000"/>
<ellipse cx="270.70" cy="102" rx="1.15" ry="1.45" fill="#000"/>
<ellipse cx="275.15" cy="102" rx="1.15" ry="1.45" fill="#000"/>
<ellipse cx="279.60" cy="102" rx="1.15" ry="1.45" fill="#000"/>
<text transform="translate(287.09,106.16) scale(1.230,1)" font-size="15.21">single photon</text>
<path d="M243.2,118.9 H282" stroke="#000" stroke-width="2.8"/>
<text transform="translate(287.68,123.76) scale(1.218,1)" font-size="15.21">two photon</text>
<rect x="483.4" y="36.4" width="13.8" height="213.8" fill="#62bd8b" stroke="#1e1e1e" stroke-width="1.3"/>
<rect x="527.5" y="194.6" width="13.8" height="55.6" fill="#33286b" stroke="#1e1e1e" stroke-width="1.3"/>
<rect x="544.9" y="119.8" width="13.8" height="130.4" fill="#62bd8b" stroke="#1e1e1e" stroke-width="1.3"/>
<rect x="589.0" y="139.0" width="13.8" height="111.2" fill="#33286b" stroke="#1e1e1e" stroke-width="1.3"/>
<rect x="606.4" y="179.6" width="13.8" height="70.6" fill="#62bd8b" stroke="#1e1e1e" stroke-width="1.3"/>
<rect x="650.5" y="89.8" width="13.8" height="160.3" fill="#33286b" stroke="#1e1e1e" stroke-width="1.3"/>
<rect x="667.9" y="220.3" width="13.8" height="29.9" fill="#62bd8b" stroke="#1e1e1e" stroke-width="1.3"/>
<rect x="712.0" y="36.4" width="13.8" height="213.8" fill="#33286b" stroke="#1e1e1e" stroke-width="1.3"/>
<line x1="481.6" y1="250.2" x2="727.6" y2="36.4" stroke="#3344aa" stroke-width="1.3"/>
<line x1="481.6" y1="36.4" x2="727.6" y2="250.2" stroke="#5cc48e" stroke-width="1.3"/>
<path d="M451.4,36.4 V250.2 H740" fill="none" stroke="#111" stroke-width="1.3"/>
<path d="M451.4,250.2 h3" stroke="#111" stroke-width="1.2"/>
<text transform="translate(437.03,256.20) scale(1.178,1)" font-size="15.21">0</text>
<path d="M451.4,207.4 h3" stroke="#111" stroke-width="1.2"/>
<text transform="translate(422.34,213.58) scale(1.083,1)" font-size="16.34">0.2</text>
<path d="M451.4,164.7 h3" stroke="#111" stroke-width="1.2"/>
<text transform="translate(422.35,170.82) scale(1.066,1)" font-size="16.34">0.4</text>
<path d="M451.4,121.9 h3" stroke="#111" stroke-width="1.2"/>
<text transform="translate(422.35,128.06) scale(1.075,1)" font-size="16.34">0.6</text>
<path d="M451.4,79.2 h3" stroke="#111" stroke-width="1.2"/>
<text transform="translate(422.35,85.30) scale(1.075,1)" font-size="16.34">0.8</text>
<path d="M451.4,36.4 h3" stroke="#111" stroke-width="1.2"/>
<path d="M442.20,30.60 V42.40" stroke="#000" stroke-width="2.1"/><path d="M443.05,30.80 Q441.20,33.20 438.20,33.80" fill="none" stroke="#000" stroke-width="1.78"/>
<path d="M481.6,250.2 v-3" stroke="#111" stroke-width="1.2"/>
<text transform="translate(470.17,271.29) scale(1.032,1)" font-size="16.48">0:</text>
<path d="M489.80,259.40 V271.60" stroke="#000" stroke-width="2.1"/><path d="M490.65,259.60 Q488.80,262.00 485.90,262.60" fill="none" stroke="#000" stroke-width="1.78"/>
<path d="M543.1,250.2 v-3" stroke="#111" stroke-width="1.2"/>
<text transform="translate(521.22,271.34) scale(1.077,1)" font-size="16.34">25:75</text>
<path d="M604.6,250.2 v-3" stroke="#111" stroke-width="1.2"/>
<text transform="translate(582.90,271.34) scale(1.072,1)" font-size="16.34">50:50</text>
<path d="M666.1,250.2 v-3" stroke="#111" stroke-width="1.2"/>
<text transform="translate(644.22,271.34) scale(1.077,1)" font-size="16.34">75:25</text>
<path d="M727.6,250.2 v-3" stroke="#111" stroke-width="1.2"/>
<path d="M720.90,259.40 V271.60" stroke="#000" stroke-width="2.1"/><path d="M721.75,259.60 Q719.90,262.00 717.00,262.60" fill="none" stroke="#000" stroke-width="1.78"/>
<text transform="translate(725.19,271.29) scale(1.049,1)" font-size="16.48">:0</text>
<text transform="translate(504.51,295.30) scale(1.099,1)" font-size="15.27">FAD:NADH mixture ratios</text>
<text transform="translate(447.99,28.69) scale(1.050,1)" font-size="18.40">(c)</text>
<rect x="525.5" y="21" width="52" height="16" fill="#33286b" stroke="#1e1e1e" stroke-width="1.3"/>
<rect x="525.5" y="44" width="52" height="16" fill="#62bd8b" stroke="#1e1e1e" stroke-width="1.3"/>
<path d="M588.00,23.30 V35.00" stroke="#000" stroke-width="2.1"/><path d="M588.85,23.50 Q587.00,25.90 584.90,26.40" fill="none" stroke="#000" stroke-width="1.78"/>
<text transform="translate(591.14,34.83) scale(1.117,1)" font-size="15.82">00µM FAD</text>
<text transform="translate(584.57,57.08) scale(1.063,1)" font-size="16.04">500µM NADH</text>
</svg></body></html>
